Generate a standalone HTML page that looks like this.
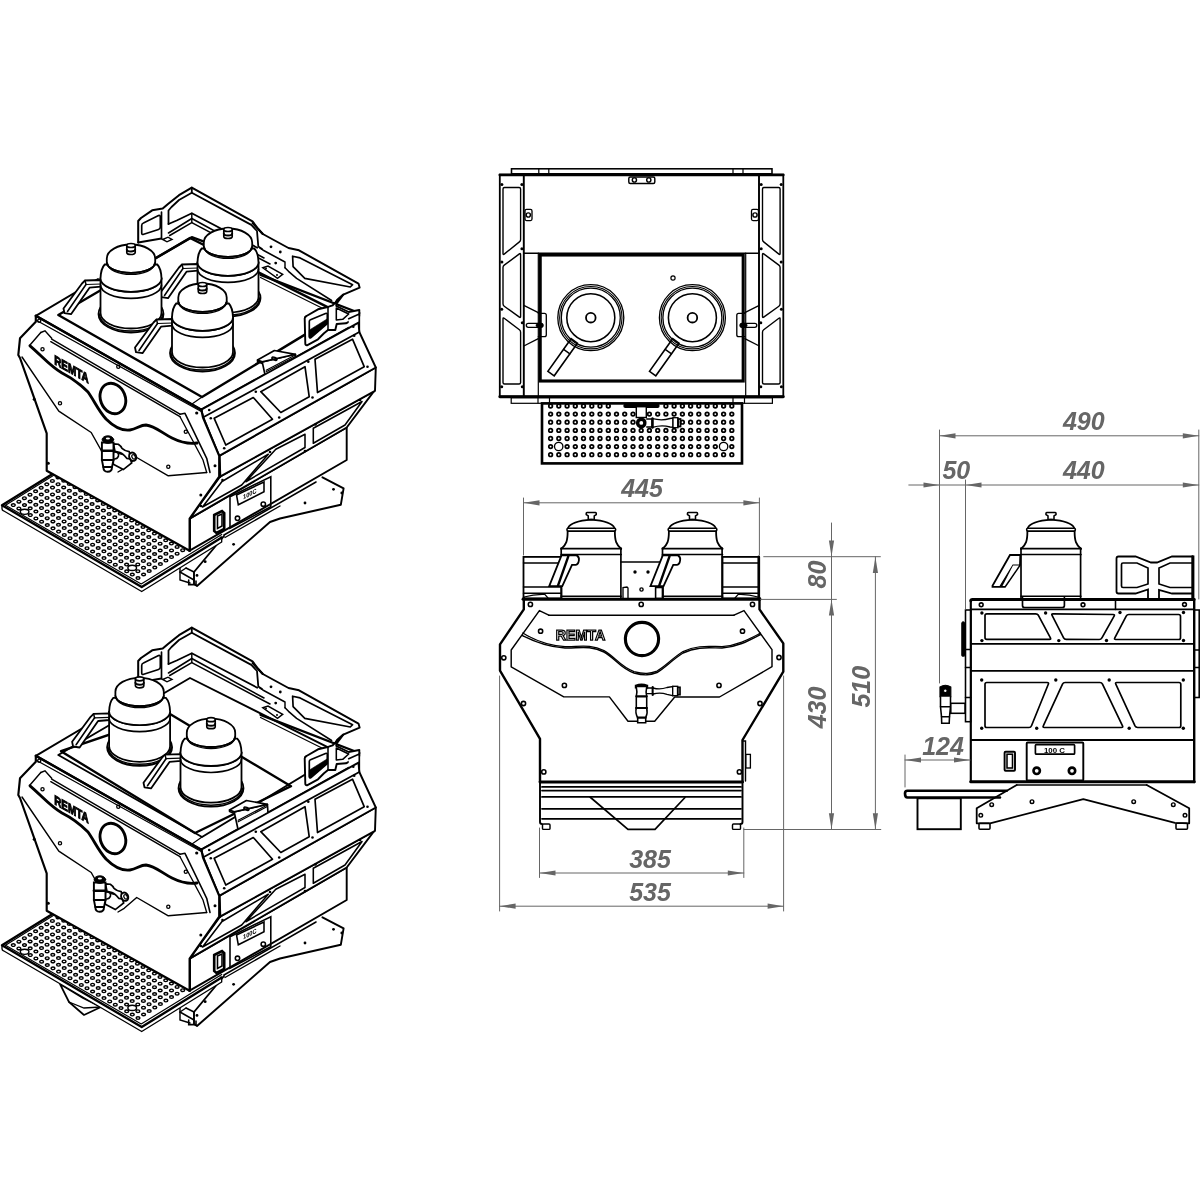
<!DOCTYPE html>
<html><head><meta charset="utf-8"><style>
html,body{margin:0;padding:0;background:#fff;}
svg{display:block;will-change:transform;}
.dim{font-family:"Liberation Sans",sans-serif;font-weight:bold;font-style:italic;fill:#666;}
.logo{font-family:"Liberation Sans",sans-serif;font-weight:bold;fill:#fff;stroke:#000;stroke-width:1.25;}
.logo2{font-family:"Liberation Sans",sans-serif;font-weight:bold;fill:#000;}
.lbl{font-family:"Liberation Sans",sans-serif;font-weight:bold;fill:#000;}
</style></head><body>
<svg width="1200" height="1200" viewBox="0 0 1200 1200" stroke-linecap="round">
<rect x="511.5" y="168.8" width="260.5" height="5.0" rx="0" fill="none" stroke="#000" stroke-width="1.56"/>
<line x1="538.8" y1="169.0" x2="538.8" y2="174.0" stroke="#000" stroke-width="1.20"/>
<line x1="548.8" y1="169.0" x2="548.8" y2="174.0" stroke="#000" stroke-width="1.20"/>
<line x1="733.0" y1="169.0" x2="733.0" y2="174.0" stroke="#000" stroke-width="1.20"/>
<line x1="743.0" y1="169.0" x2="743.0" y2="174.0" stroke="#000" stroke-width="1.20"/>
<rect x="499.8" y="174.5" width="283.5" height="222.0" rx="0" fill="none" stroke="#000" stroke-width="1.80"/>
<line x1="499.8" y1="175.0" x2="783.3" y2="175.0" stroke="#000" stroke-width="2.64"/>
<line x1="499.8" y1="396.8" x2="783.3" y2="396.8" stroke="#000" stroke-width="2.88"/>
<line x1="523.8" y1="174.5" x2="523.8" y2="396.8" stroke="#000" stroke-width="1.92"/>
<line x1="759.0" y1="174.5" x2="759.0" y2="396.8" stroke="#000" stroke-width="1.92"/>
<line x1="523.8" y1="253.2" x2="759.0" y2="253.2" stroke="#000" stroke-width="1.44"/>
<rect x="540.2" y="255.0" width="203.0" height="126.0" rx="0" fill="none" stroke="#000" stroke-width="3.12"/>
<line x1="538.3" y1="253.0" x2="538.3" y2="396.8" stroke="#000" stroke-width="1.20"/>
<line x1="745.7" y1="253.0" x2="745.7" y2="396.8" stroke="#000" stroke-width="1.20"/>
<rect x="628.8" y="177.0" width="26.0" height="6.5" rx="1.5" fill="none" stroke="#000" stroke-width="1.44"/>
<circle cx="634.4" cy="180.0" r="2.1" fill="none" stroke="#000" stroke-width="1.44"/>
<circle cx="648.8" cy="180.0" r="2.1" fill="none" stroke="#000" stroke-width="1.44"/>
<rect x="525.0" y="209.4" width="7.0" height="11.2" rx="1.5" fill="none" stroke="#000" stroke-width="1.32"/>
<circle cx="528.3" cy="215.0" r="2.1" fill="none" stroke="#000" stroke-width="1.44"/>
<rect x="751.5" y="209.4" width="7.0" height="11.2" rx="1.5" fill="none" stroke="#000" stroke-width="1.32"/>
<circle cx="755.0" cy="215.0" r="2.1" fill="none" stroke="#000" stroke-width="1.44"/>
<path d=" M503.0,189.0 Q503.0,187.5 504.5,187.5 L519.1,187.5 Q520.6,187.5 520.6,189.0 L520.6,239.5 Q520.6,241.0 519.4,241.9 L504.2,254.1 Q503.0,255.0 503.0,253.5 Z" fill="none" stroke="#000" stroke-width="1.38"/>
<path d=" M503.0,267.5 Q503.0,266.0 504.2,265.1 L519.4,253.9 Q520.6,253.0 520.6,254.5 L520.6,316.5 Q520.6,318.0 519.4,317.1 L504.2,306.2 Q503.0,305.3 503.0,303.8 Z" fill="none" stroke="#000" stroke-width="1.38"/>
<path d=" M503.0,318.8 Q503.0,317.3 504.2,318.2 L519.4,329.8 Q520.6,330.7 520.6,332.2 L520.6,382.5 Q520.6,384.0 519.1,384.0 L504.5,384.0 Q503.0,384.0 503.0,382.5 Z" fill="none" stroke="#000" stroke-width="1.38"/>
<circle cx="501.9" cy="184.4" r="1.5" fill="#000"/>
<circle cx="521.9" cy="184.4" r="1.5" fill="#000"/>
<circle cx="521.9" cy="248.8" r="1.5" fill="#000"/>
<circle cx="501.9" cy="261.9" r="1.5" fill="#000"/>
<circle cx="501.7" cy="309.3" r="1.5" fill="#000"/>
<circle cx="522.3" cy="322.7" r="1.5" fill="#000"/>
<circle cx="501.7" cy="386.7" r="1.5" fill="#000"/>
<circle cx="522.3" cy="386.7" r="1.5" fill="#000"/>
<path d="M523.8,305.3 L538.3,312.7" fill="none" stroke="#000" stroke-width="1.32" />
<path d="M523.8,346.0 L538.3,338.7" fill="none" stroke="#000" stroke-width="1.32" />
<path d="M538.3,313.3 L544.5,313.3 Q546.3,313.3 546.3,315.3 L546.3,334.7 Q546.3,336.7 544.5,336.7 L538.3,336.7" fill="none" stroke="#000" stroke-width="1.32" />
<rect x="526.3" y="323.3" width="16.7" height="4.0" rx="2" fill="none" stroke="#000" stroke-width="1.32"/>
<rect x="536.0" y="323.3" width="7.0" height="4.0" rx="2" fill="#000" stroke="#000" stroke-width="0.60"/>
<path d=" M780.1,189.0 Q780.1,187.5 778.6,187.5 L764.0,187.5 Q762.5,187.5 762.5,189.0 L762.5,239.5 Q762.5,241.0 763.7,241.9 L778.9,254.1 Q780.1,255.0 780.1,253.5 Z" fill="none" stroke="#000" stroke-width="1.38"/>
<path d=" M780.1,267.5 Q780.1,266.0 778.9,265.1 L763.7,253.9 Q762.5,253.0 762.5,254.5 L762.5,316.5 Q762.5,318.0 763.7,317.1 L778.9,306.2 Q780.1,305.3 780.1,303.8 Z" fill="none" stroke="#000" stroke-width="1.38"/>
<path d=" M780.1,318.8 Q780.1,317.3 778.9,318.2 L763.7,329.8 Q762.5,330.7 762.5,332.2 L762.5,382.5 Q762.5,384.0 764.0,384.0 L778.6,384.0 Q780.1,384.0 780.1,382.5 Z" fill="none" stroke="#000" stroke-width="1.38"/>
<circle cx="781.2" cy="184.4" r="1.5" fill="#000"/>
<circle cx="761.2" cy="184.4" r="1.5" fill="#000"/>
<circle cx="761.2" cy="248.8" r="1.5" fill="#000"/>
<circle cx="781.2" cy="261.9" r="1.5" fill="#000"/>
<circle cx="781.4" cy="309.3" r="1.5" fill="#000"/>
<circle cx="760.8" cy="322.7" r="1.5" fill="#000"/>
<circle cx="781.4" cy="386.7" r="1.5" fill="#000"/>
<circle cx="760.8" cy="386.7" r="1.5" fill="#000"/>
<path d="M759.3,305.3 L744.8,312.7" fill="none" stroke="#000" stroke-width="1.32" />
<path d="M759.3,346.0 L744.8,338.7" fill="none" stroke="#000" stroke-width="1.32" />
<path d="M744.8,313.3 L738.5999999999999,313.3 Q736.8,313.3 736.8,315.3 L736.8,334.7 Q736.8,336.7 738.5999999999999,336.7 L744.8,336.7" fill="none" stroke="#000" stroke-width="1.32" />
<rect x="740.1" y="323.3" width="16.7" height="4.0" rx="2" fill="none" stroke="#000" stroke-width="1.32"/>
<rect x="740.1" y="323.3" width="7.0" height="4.0" rx="2" fill="#000" stroke="#000" stroke-width="0.60"/>
<circle cx="590.8" cy="317.7" r="33.0" fill="none" stroke="#000" stroke-width="1.32"/>
<circle cx="590.8" cy="317.7" r="31.2" fill="none" stroke="#000" stroke-width="1.08"/>
<circle cx="590.8" cy="317.7" r="29.5" fill="none" stroke="#000" stroke-width="1.32"/>
<circle cx="590.8" cy="317.7" r="24.0" fill="none" stroke="#000" stroke-width="1.56"/>
<circle cx="590.8" cy="317.7" r="4.8" fill="none" stroke="#000" stroke-width="1.80"/>
<path d="M577.4,343.2 L554.2,375.8 L547.9,371.3 L571.1,338.7 Z" fill="none" stroke="#000" stroke-width="1.56" />
<line x1="569.9" y1="353.8" x2="563.6" y2="349.3" stroke="#000" stroke-width="1.44"/>
<circle cx="692.4" cy="317.7" r="33.0" fill="none" stroke="#000" stroke-width="1.32"/>
<circle cx="692.4" cy="317.7" r="31.2" fill="none" stroke="#000" stroke-width="1.08"/>
<circle cx="692.4" cy="317.7" r="29.5" fill="none" stroke="#000" stroke-width="1.32"/>
<circle cx="692.4" cy="317.7" r="24.0" fill="none" stroke="#000" stroke-width="1.56"/>
<circle cx="692.4" cy="317.7" r="4.8" fill="none" stroke="#000" stroke-width="1.80"/>
<path d="M679.0,343.2 L655.8,375.8 L649.5,371.3 L672.7,338.7 Z" fill="none" stroke="#000" stroke-width="1.56" />
<line x1="671.5" y1="353.8" x2="665.2" y2="349.3" stroke="#000" stroke-width="1.44"/>
<circle cx="673.0" cy="278.0" r="2.1" fill="none" stroke="#000" stroke-width="1.20"/>
<rect x="511.2" y="397.7" width="261.2" height="5.6" rx="0" fill="none" stroke="#000" stroke-width="1.20"/>
<line x1="538.0" y1="398.0" x2="538.0" y2="403.0" stroke="#000" stroke-width="1.20"/>
<line x1="549.5" y1="398.0" x2="549.5" y2="403.0" stroke="#000" stroke-width="1.20"/>
<line x1="733.0" y1="398.0" x2="733.0" y2="403.0" stroke="#000" stroke-width="1.20"/>
<line x1="744.5" y1="398.0" x2="744.5" y2="403.0" stroke="#000" stroke-width="1.20"/>
<rect x="542.0" y="403.4" width="200.0" height="60.0" rx="0" fill="none" stroke="#000" stroke-width="2.64"/>
<circle cx="550.6" cy="406.0" r="1.8" fill="none" stroke="#000" stroke-width="1.74"/>
<circle cx="550.6" cy="414.1" r="1.8" fill="none" stroke="#000" stroke-width="1.74"/>
<circle cx="550.6" cy="422.2" r="1.8" fill="none" stroke="#000" stroke-width="1.74"/>
<circle cx="550.6" cy="430.4" r="1.8" fill="none" stroke="#000" stroke-width="1.74"/>
<circle cx="550.6" cy="438.5" r="1.8" fill="none" stroke="#000" stroke-width="1.74"/>
<circle cx="550.6" cy="446.6" r="1.8" fill="none" stroke="#000" stroke-width="1.74"/>
<circle cx="550.6" cy="454.7" r="1.8" fill="none" stroke="#000" stroke-width="1.74"/>
<circle cx="558.8" cy="406.0" r="1.8" fill="none" stroke="#000" stroke-width="1.74"/>
<circle cx="558.8" cy="414.1" r="1.8" fill="none" stroke="#000" stroke-width="1.74"/>
<circle cx="558.8" cy="422.2" r="1.8" fill="none" stroke="#000" stroke-width="1.74"/>
<circle cx="558.8" cy="430.4" r="1.8" fill="none" stroke="#000" stroke-width="1.74"/>
<circle cx="558.8" cy="438.5" r="1.8" fill="none" stroke="#000" stroke-width="1.74"/>
<circle cx="558.8" cy="454.7" r="1.8" fill="none" stroke="#000" stroke-width="1.74"/>
<circle cx="567.1" cy="406.0" r="1.8" fill="none" stroke="#000" stroke-width="1.74"/>
<circle cx="567.1" cy="414.1" r="1.8" fill="none" stroke="#000" stroke-width="1.74"/>
<circle cx="567.1" cy="422.2" r="1.8" fill="none" stroke="#000" stroke-width="1.74"/>
<circle cx="567.1" cy="430.4" r="1.8" fill="none" stroke="#000" stroke-width="1.74"/>
<circle cx="567.1" cy="438.5" r="1.8" fill="none" stroke="#000" stroke-width="1.74"/>
<circle cx="567.1" cy="446.6" r="1.8" fill="none" stroke="#000" stroke-width="1.74"/>
<circle cx="567.1" cy="454.7" r="1.8" fill="none" stroke="#000" stroke-width="1.74"/>
<circle cx="575.3" cy="406.0" r="1.8" fill="none" stroke="#000" stroke-width="1.74"/>
<circle cx="575.3" cy="414.1" r="1.8" fill="none" stroke="#000" stroke-width="1.74"/>
<circle cx="575.3" cy="422.2" r="1.8" fill="none" stroke="#000" stroke-width="1.74"/>
<circle cx="575.3" cy="430.4" r="1.8" fill="none" stroke="#000" stroke-width="1.74"/>
<circle cx="575.3" cy="438.5" r="1.8" fill="none" stroke="#000" stroke-width="1.74"/>
<circle cx="575.3" cy="446.6" r="1.8" fill="none" stroke="#000" stroke-width="1.74"/>
<circle cx="575.3" cy="454.7" r="1.8" fill="none" stroke="#000" stroke-width="1.74"/>
<circle cx="583.5" cy="406.0" r="1.8" fill="none" stroke="#000" stroke-width="1.74"/>
<circle cx="583.5" cy="414.1" r="1.8" fill="none" stroke="#000" stroke-width="1.74"/>
<circle cx="583.5" cy="422.2" r="1.8" fill="none" stroke="#000" stroke-width="1.74"/>
<circle cx="583.5" cy="430.4" r="1.8" fill="none" stroke="#000" stroke-width="1.74"/>
<circle cx="583.5" cy="438.5" r="1.8" fill="none" stroke="#000" stroke-width="1.74"/>
<circle cx="583.5" cy="446.6" r="1.8" fill="none" stroke="#000" stroke-width="1.74"/>
<circle cx="583.5" cy="454.7" r="1.8" fill="none" stroke="#000" stroke-width="1.74"/>
<circle cx="591.8" cy="406.0" r="1.8" fill="none" stroke="#000" stroke-width="1.74"/>
<circle cx="591.8" cy="414.1" r="1.8" fill="none" stroke="#000" stroke-width="1.74"/>
<circle cx="591.8" cy="422.2" r="1.8" fill="none" stroke="#000" stroke-width="1.74"/>
<circle cx="591.8" cy="430.4" r="1.8" fill="none" stroke="#000" stroke-width="1.74"/>
<circle cx="591.8" cy="438.5" r="1.8" fill="none" stroke="#000" stroke-width="1.74"/>
<circle cx="591.8" cy="446.6" r="1.8" fill="none" stroke="#000" stroke-width="1.74"/>
<circle cx="591.8" cy="454.7" r="1.8" fill="none" stroke="#000" stroke-width="1.74"/>
<circle cx="600.0" cy="406.0" r="1.8" fill="none" stroke="#000" stroke-width="1.74"/>
<circle cx="600.0" cy="414.1" r="1.8" fill="none" stroke="#000" stroke-width="1.74"/>
<circle cx="600.0" cy="422.2" r="1.8" fill="none" stroke="#000" stroke-width="1.74"/>
<circle cx="600.0" cy="430.4" r="1.8" fill="none" stroke="#000" stroke-width="1.74"/>
<circle cx="600.0" cy="438.5" r="1.8" fill="none" stroke="#000" stroke-width="1.74"/>
<circle cx="600.0" cy="446.6" r="1.8" fill="none" stroke="#000" stroke-width="1.74"/>
<circle cx="600.0" cy="454.7" r="1.8" fill="none" stroke="#000" stroke-width="1.74"/>
<circle cx="608.3" cy="406.0" r="1.8" fill="none" stroke="#000" stroke-width="1.74"/>
<circle cx="608.3" cy="414.1" r="1.8" fill="none" stroke="#000" stroke-width="1.74"/>
<circle cx="608.3" cy="422.2" r="1.8" fill="none" stroke="#000" stroke-width="1.74"/>
<circle cx="608.3" cy="430.4" r="1.8" fill="none" stroke="#000" stroke-width="1.74"/>
<circle cx="608.3" cy="438.5" r="1.8" fill="none" stroke="#000" stroke-width="1.74"/>
<circle cx="608.3" cy="446.6" r="1.8" fill="none" stroke="#000" stroke-width="1.74"/>
<circle cx="608.3" cy="454.7" r="1.8" fill="none" stroke="#000" stroke-width="1.74"/>
<circle cx="616.5" cy="414.1" r="1.8" fill="none" stroke="#000" stroke-width="1.74"/>
<circle cx="616.5" cy="422.2" r="1.8" fill="none" stroke="#000" stroke-width="1.74"/>
<circle cx="616.5" cy="430.4" r="1.8" fill="none" stroke="#000" stroke-width="1.74"/>
<circle cx="616.5" cy="438.5" r="1.8" fill="none" stroke="#000" stroke-width="1.74"/>
<circle cx="616.5" cy="446.6" r="1.8" fill="none" stroke="#000" stroke-width="1.74"/>
<circle cx="616.5" cy="454.7" r="1.8" fill="none" stroke="#000" stroke-width="1.74"/>
<circle cx="624.7" cy="414.1" r="1.8" fill="none" stroke="#000" stroke-width="1.74"/>
<circle cx="624.7" cy="422.2" r="1.8" fill="none" stroke="#000" stroke-width="1.74"/>
<circle cx="624.7" cy="430.4" r="1.8" fill="none" stroke="#000" stroke-width="1.74"/>
<circle cx="624.7" cy="438.5" r="1.8" fill="none" stroke="#000" stroke-width="1.74"/>
<circle cx="624.7" cy="446.6" r="1.8" fill="none" stroke="#000" stroke-width="1.74"/>
<circle cx="624.7" cy="454.7" r="1.8" fill="none" stroke="#000" stroke-width="1.74"/>
<circle cx="633.0" cy="414.1" r="1.8" fill="none" stroke="#000" stroke-width="1.74"/>
<circle cx="633.0" cy="422.2" r="1.8" fill="none" stroke="#000" stroke-width="1.74"/>
<circle cx="633.0" cy="430.4" r="1.8" fill="none" stroke="#000" stroke-width="1.74"/>
<circle cx="633.0" cy="438.5" r="1.8" fill="none" stroke="#000" stroke-width="1.74"/>
<circle cx="633.0" cy="446.6" r="1.8" fill="none" stroke="#000" stroke-width="1.74"/>
<circle cx="633.0" cy="454.7" r="1.8" fill="none" stroke="#000" stroke-width="1.74"/>
<circle cx="641.2" cy="414.1" r="1.8" fill="none" stroke="#000" stroke-width="1.74"/>
<circle cx="641.2" cy="422.2" r="1.8" fill="none" stroke="#000" stroke-width="1.74"/>
<circle cx="641.2" cy="430.4" r="1.8" fill="none" stroke="#000" stroke-width="1.74"/>
<circle cx="641.2" cy="438.5" r="1.8" fill="none" stroke="#000" stroke-width="1.74"/>
<circle cx="641.2" cy="446.6" r="1.8" fill="none" stroke="#000" stroke-width="1.74"/>
<circle cx="641.2" cy="454.7" r="1.8" fill="none" stroke="#000" stroke-width="1.74"/>
<circle cx="649.4" cy="414.1" r="1.8" fill="none" stroke="#000" stroke-width="1.74"/>
<circle cx="649.4" cy="422.2" r="1.8" fill="none" stroke="#000" stroke-width="1.74"/>
<circle cx="649.4" cy="430.4" r="1.8" fill="none" stroke="#000" stroke-width="1.74"/>
<circle cx="649.4" cy="438.5" r="1.8" fill="none" stroke="#000" stroke-width="1.74"/>
<circle cx="649.4" cy="446.6" r="1.8" fill="none" stroke="#000" stroke-width="1.74"/>
<circle cx="649.4" cy="454.7" r="1.8" fill="none" stroke="#000" stroke-width="1.74"/>
<circle cx="657.7" cy="414.1" r="1.8" fill="none" stroke="#000" stroke-width="1.74"/>
<circle cx="657.7" cy="422.2" r="1.8" fill="none" stroke="#000" stroke-width="1.74"/>
<circle cx="657.7" cy="430.4" r="1.8" fill="none" stroke="#000" stroke-width="1.74"/>
<circle cx="657.7" cy="438.5" r="1.8" fill="none" stroke="#000" stroke-width="1.74"/>
<circle cx="657.7" cy="446.6" r="1.8" fill="none" stroke="#000" stroke-width="1.74"/>
<circle cx="657.7" cy="454.7" r="1.8" fill="none" stroke="#000" stroke-width="1.74"/>
<circle cx="665.9" cy="406.0" r="1.8" fill="none" stroke="#000" stroke-width="1.74"/>
<circle cx="665.9" cy="414.1" r="1.8" fill="none" stroke="#000" stroke-width="1.74"/>
<circle cx="665.9" cy="422.2" r="1.8" fill="none" stroke="#000" stroke-width="1.74"/>
<circle cx="665.9" cy="430.4" r="1.8" fill="none" stroke="#000" stroke-width="1.74"/>
<circle cx="665.9" cy="438.5" r="1.8" fill="none" stroke="#000" stroke-width="1.74"/>
<circle cx="665.9" cy="446.6" r="1.8" fill="none" stroke="#000" stroke-width="1.74"/>
<circle cx="665.9" cy="454.7" r="1.8" fill="none" stroke="#000" stroke-width="1.74"/>
<circle cx="674.1" cy="406.0" r="1.8" fill="none" stroke="#000" stroke-width="1.74"/>
<circle cx="674.1" cy="414.1" r="1.8" fill="none" stroke="#000" stroke-width="1.74"/>
<circle cx="674.1" cy="422.2" r="1.8" fill="none" stroke="#000" stroke-width="1.74"/>
<circle cx="674.1" cy="430.4" r="1.8" fill="none" stroke="#000" stroke-width="1.74"/>
<circle cx="674.1" cy="438.5" r="1.8" fill="none" stroke="#000" stroke-width="1.74"/>
<circle cx="674.1" cy="446.6" r="1.8" fill="none" stroke="#000" stroke-width="1.74"/>
<circle cx="674.1" cy="454.7" r="1.8" fill="none" stroke="#000" stroke-width="1.74"/>
<circle cx="682.4" cy="406.0" r="1.8" fill="none" stroke="#000" stroke-width="1.74"/>
<circle cx="682.4" cy="414.1" r="1.8" fill="none" stroke="#000" stroke-width="1.74"/>
<circle cx="682.4" cy="422.2" r="1.8" fill="none" stroke="#000" stroke-width="1.74"/>
<circle cx="682.4" cy="430.4" r="1.8" fill="none" stroke="#000" stroke-width="1.74"/>
<circle cx="682.4" cy="438.5" r="1.8" fill="none" stroke="#000" stroke-width="1.74"/>
<circle cx="682.4" cy="446.6" r="1.8" fill="none" stroke="#000" stroke-width="1.74"/>
<circle cx="682.4" cy="454.7" r="1.8" fill="none" stroke="#000" stroke-width="1.74"/>
<circle cx="690.6" cy="406.0" r="1.8" fill="none" stroke="#000" stroke-width="1.74"/>
<circle cx="690.6" cy="414.1" r="1.8" fill="none" stroke="#000" stroke-width="1.74"/>
<circle cx="690.6" cy="422.2" r="1.8" fill="none" stroke="#000" stroke-width="1.74"/>
<circle cx="690.6" cy="430.4" r="1.8" fill="none" stroke="#000" stroke-width="1.74"/>
<circle cx="690.6" cy="438.5" r="1.8" fill="none" stroke="#000" stroke-width="1.74"/>
<circle cx="690.6" cy="446.6" r="1.8" fill="none" stroke="#000" stroke-width="1.74"/>
<circle cx="690.6" cy="454.7" r="1.8" fill="none" stroke="#000" stroke-width="1.74"/>
<circle cx="698.8" cy="406.0" r="1.8" fill="none" stroke="#000" stroke-width="1.74"/>
<circle cx="698.8" cy="414.1" r="1.8" fill="none" stroke="#000" stroke-width="1.74"/>
<circle cx="698.8" cy="422.2" r="1.8" fill="none" stroke="#000" stroke-width="1.74"/>
<circle cx="698.8" cy="430.4" r="1.8" fill="none" stroke="#000" stroke-width="1.74"/>
<circle cx="698.8" cy="438.5" r="1.8" fill="none" stroke="#000" stroke-width="1.74"/>
<circle cx="698.8" cy="446.6" r="1.8" fill="none" stroke="#000" stroke-width="1.74"/>
<circle cx="698.8" cy="454.7" r="1.8" fill="none" stroke="#000" stroke-width="1.74"/>
<circle cx="707.1" cy="406.0" r="1.8" fill="none" stroke="#000" stroke-width="1.74"/>
<circle cx="707.1" cy="414.1" r="1.8" fill="none" stroke="#000" stroke-width="1.74"/>
<circle cx="707.1" cy="422.2" r="1.8" fill="none" stroke="#000" stroke-width="1.74"/>
<circle cx="707.1" cy="430.4" r="1.8" fill="none" stroke="#000" stroke-width="1.74"/>
<circle cx="707.1" cy="438.5" r="1.8" fill="none" stroke="#000" stroke-width="1.74"/>
<circle cx="707.1" cy="446.6" r="1.8" fill="none" stroke="#000" stroke-width="1.74"/>
<circle cx="707.1" cy="454.7" r="1.8" fill="none" stroke="#000" stroke-width="1.74"/>
<circle cx="715.3" cy="406.0" r="1.8" fill="none" stroke="#000" stroke-width="1.74"/>
<circle cx="715.3" cy="414.1" r="1.8" fill="none" stroke="#000" stroke-width="1.74"/>
<circle cx="715.3" cy="422.2" r="1.8" fill="none" stroke="#000" stroke-width="1.74"/>
<circle cx="715.3" cy="430.4" r="1.8" fill="none" stroke="#000" stroke-width="1.74"/>
<circle cx="715.3" cy="438.5" r="1.8" fill="none" stroke="#000" stroke-width="1.74"/>
<circle cx="715.3" cy="446.6" r="1.8" fill="none" stroke="#000" stroke-width="1.74"/>
<circle cx="715.3" cy="454.7" r="1.8" fill="none" stroke="#000" stroke-width="1.74"/>
<circle cx="723.6" cy="406.0" r="1.8" fill="none" stroke="#000" stroke-width="1.74"/>
<circle cx="723.6" cy="414.1" r="1.8" fill="none" stroke="#000" stroke-width="1.74"/>
<circle cx="723.6" cy="422.2" r="1.8" fill="none" stroke="#000" stroke-width="1.74"/>
<circle cx="723.6" cy="430.4" r="1.8" fill="none" stroke="#000" stroke-width="1.74"/>
<circle cx="723.6" cy="438.5" r="1.8" fill="none" stroke="#000" stroke-width="1.74"/>
<circle cx="723.6" cy="454.7" r="1.8" fill="none" stroke="#000" stroke-width="1.74"/>
<circle cx="731.8" cy="406.0" r="1.8" fill="none" stroke="#000" stroke-width="1.74"/>
<circle cx="731.8" cy="414.1" r="1.8" fill="none" stroke="#000" stroke-width="1.74"/>
<circle cx="731.8" cy="422.2" r="1.8" fill="none" stroke="#000" stroke-width="1.74"/>
<circle cx="731.8" cy="430.4" r="1.8" fill="none" stroke="#000" stroke-width="1.74"/>
<circle cx="731.8" cy="438.5" r="1.8" fill="none" stroke="#000" stroke-width="1.74"/>
<circle cx="731.8" cy="446.6" r="1.8" fill="none" stroke="#000" stroke-width="1.74"/>
<circle cx="731.8" cy="454.7" r="1.8" fill="none" stroke="#000" stroke-width="1.74"/>
<circle cx="558.7" cy="446.5" r="4.2" fill="none" stroke="#000" stroke-width="1.32"/>
<circle cx="723.6" cy="446.5" r="4.2" fill="none" stroke="#000" stroke-width="1.32"/>
<rect x="623.3" y="403.8" width="36.3" height="4.2" rx="2" fill="#000" stroke="#000" stroke-width="0.00"/>
<rect x="636.3" y="406.7" width="10.0" height="10.8" rx="0" fill="#fff" stroke="#000" stroke-width="1.44"/>
<circle cx="641.3" cy="422.9" r="5.4" fill="#000" stroke="#000" stroke-width="0.00"/>
<circle cx="641.3" cy="422.9" r="1.9" fill="#fff" stroke="#000" stroke-width="0.00"/>
<path d="M646.7,419 L652,419 L652,427 L646.7,427" fill="#fff" stroke="#000" stroke-width="1.32" />
<path d="M652.5,418.7 Q662,421 670,418.5 L673,418 L673,427.3 L670,427 Q662,424.5 652.5,427.3 Z" fill="#fff" stroke="#000" stroke-width="1.32" />
<rect x="673.0" y="417.7" width="5.0" height="10.0" rx="0" fill="#fff" stroke="#000" stroke-width="1.32"/>
<rect x="678.0" y="419.0" width="2.5" height="7.5" rx="0" fill="none" stroke="#000" stroke-width="1.80"/>
<line x1="652.5" y1="418.5" x2="652.5" y2="427.5" stroke="#000" stroke-width="2.40"/>
<rect x="523.5" y="556.9" width="38.0" height="41.5" rx="0" fill="none" stroke="#000" stroke-width="1.80"/>
<line x1="523.5" y1="563.0" x2="561.0" y2="563.0" stroke="#000" stroke-width="1.56"/>
<line x1="523.5" y1="587.0" x2="561.0" y2="587.0" stroke="#000" stroke-width="1.56"/>
<line x1="523.5" y1="593.3" x2="561.0" y2="593.3" stroke="#000" stroke-width="1.56"/>
<path d="M524,597 Q535,594 545,594.5 L548,598" fill="none" stroke="#000" stroke-width="1.20" />
<rect x="722.5" y="556.9" width="36.3" height="41.5" rx="0" fill="none" stroke="#000" stroke-width="1.80"/>
<line x1="722.5" y1="563.0" x2="758.8" y2="563.0" stroke="#000" stroke-width="1.56"/>
<line x1="722.5" y1="587.0" x2="758.8" y2="587.0" stroke="#000" stroke-width="1.56"/>
<line x1="722.5" y1="593.3" x2="758.8" y2="593.3" stroke="#000" stroke-width="1.56"/>
<path d="M758,597 Q748,594 738,594.5 L735,598" fill="none" stroke="#000" stroke-width="1.20" />
<line x1="758.8" y1="556.9" x2="758.8" y2="598.5" stroke="#000" stroke-width="2.64"/>
<line x1="621.0" y1="562.0" x2="662.5" y2="562.0" stroke="#000" stroke-width="1.68"/>
<circle cx="635.0" cy="572.0" r="1.7" fill="#000"/>
<circle cx="648.0" cy="572.0" r="1.7" fill="#000"/>
<circle cx="641.5" cy="589.5" r="1.6" fill="none" stroke="#000" stroke-width="1.44"/>
<path d="M623,598 L623,587.5 L627,587 L628,588 L628,598" fill="none" stroke="#000" stroke-width="1.32" />
<path d="M586.95,512.5 L595.55,512.5 Q596.25,512.5 596.25,513.3 L596.25,514.5 L594.25,516 L594.25,519.5 L588.25,519.5 L588.25,516 L586.25,514.5 L586.25,513.3 Q586.25,512.5 586.95,512.5 Z" fill="#fff" stroke="#000" stroke-width="1.56" />
<path d="M567.95,528 Q571.25,521 591.25,519.6 Q611.25,521 614.55,528" fill="none" stroke="#000" stroke-width="1.68" />
<rect x="567.0" y="528.3" width="48.6" height="2.8" rx="1" fill="none" stroke="#000" stroke-width="1.56"/>
<path d="M567.65,531.2 C567.65,541 566.25,544.5 561.25,549 M614.85,531.2 C614.85,541 616.25,544.5 621.25,549" fill="none" stroke="#000" stroke-width="1.80" />
<line x1="561.2" y1="548.6" x2="621.2" y2="548.6" stroke="#000" stroke-width="1.68"/>
<line x1="561.2" y1="554.5" x2="621.2" y2="554.5" stroke="#000" stroke-width="1.68"/>
<line x1="561.2" y1="548.0" x2="561.2" y2="598.0" stroke="#000" stroke-width="1.68"/>
<line x1="620.9" y1="548.0" x2="620.9" y2="598.0" stroke="#000" stroke-width="1.68"/>
<line x1="561.2" y1="596.3" x2="621.2" y2="596.3" stroke="#000" stroke-width="1.44"/>
<path d="M561.5,555.4 L576.7,555.4 Q579.5,557 578.9,560.4 Q578.3,564.5 575.8,564.8 L572.0,564.8 L562.3,586.2 L549.2,586.2 Z" fill="#fff" stroke="#000" stroke-width="1.80" />
<line x1="568.3" y1="556.3" x2="557.9" y2="585.8" stroke="#000" stroke-width="2.40"/>
<path d="M688.2,512.5 L696.8,512.5 Q697.5,512.5 697.5,513.3 L697.5,514.5 L695.5,516 L695.5,519.5 L689.5,519.5 L689.5,516 L687.5,514.5 L687.5,513.3 Q687.5,512.5 688.2,512.5 Z" fill="#fff" stroke="#000" stroke-width="1.56" />
<path d="M669.2,528 Q672.5,521 692.5,519.6 Q712.5,521 715.8,528" fill="none" stroke="#000" stroke-width="1.68" />
<rect x="668.2" y="528.3" width="48.6" height="2.8" rx="1" fill="none" stroke="#000" stroke-width="1.56"/>
<path d="M668.9,531.2 C668.9,541 667.5,544.5 662.5,549 M716.1,531.2 C716.1,541 717.5,544.5 722.5,549" fill="none" stroke="#000" stroke-width="1.80" />
<line x1="662.5" y1="548.6" x2="722.5" y2="548.6" stroke="#000" stroke-width="1.68"/>
<line x1="662.5" y1="554.5" x2="722.5" y2="554.5" stroke="#000" stroke-width="1.68"/>
<line x1="662.5" y1="548.0" x2="662.5" y2="598.0" stroke="#000" stroke-width="1.68"/>
<line x1="722.1" y1="548.0" x2="722.1" y2="598.0" stroke="#000" stroke-width="1.68"/>
<line x1="662.5" y1="596.3" x2="722.5" y2="596.3" stroke="#000" stroke-width="1.44"/>
<path d="M662.75,555.4 L677.95,555.4 Q680.75,557 680.15,560.4 Q679.55,564.5 677.05,564.8 L673.25,564.8 L663.55,586.2 L650.45,586.2 Z" fill="#fff" stroke="#000" stroke-width="1.80" />
<line x1="669.5" y1="556.3" x2="659.1" y2="585.8" stroke="#000" stroke-width="2.40"/>
<rect x="655.6" y="587.5" width="7.5" height="11.0" rx="0" fill="none" stroke="#000" stroke-width="1.56"/>
<line x1="523.0" y1="599.3" x2="760.0" y2="599.3" stroke="#000" stroke-width="2.88"/>
<line x1="548.8" y1="615.2" x2="734.0" y2="615.2" stroke="#000" stroke-width="1.56"/>
<path d="M523.8,598.0 L523.8,609.4 L500.0,644.4 L500.0,670.6 L540.0,738.8 L540.0,782.0" fill="none" stroke="#000" stroke-width="2.40" stroke-linejoin="round"/>
<path d="M759.5,598.0 L759.5,609.4 L783.3,643.4 L783.3,671.7 L742.5,740.0 L742.5,782.0" fill="none" stroke="#000" stroke-width="2.40" stroke-linejoin="round"/>
<path d="M548.8,615.2 L539.4,610.6 L511.2,650.0 L511.2,666.9 L563.8,696.9 L609.4,696.9 L628.0,721.3 L654.7,721.3 L674.7,697.0 L719.5,697.0 L772.0,666.7 L772.0,649.7 L744.0,610.6 L734.0,615.2" fill="none" stroke="#000" stroke-width="1.44" stroke-linejoin="round"/>
<path d="M522.5,635.6 C535,642 548,647 565,648 C578,648.5 590,645 604,652 C615,658 620,668 634,673 C645,676 650,675 657,672.5 C665,668 672,660 683,653 C697,646 710,648 722,648 C738,647 750,640 760.5,634.5" fill="none" stroke="#000" stroke-width="1.44" />
<path d="M522.8,634.4 C535,642 548,647 565,648 C578,648.5 590,645 604,652 C615,658 620,668 634,673 C645,676 650,675 657,672.5 C665,668 672,660 683,653 C697,646 710,648 722,648 C738,647 750,640 760.5,634.5" fill="none" stroke="#000" stroke-width="1.20" transform="translate(0,-1.4)"/>
<circle cx="530.4" cy="604.4" r="2.1" fill="none" stroke="#000" stroke-width="1.56"/>
<circle cx="641.2" cy="604.4" r="2.1" fill="none" stroke="#000" stroke-width="1.56"/>
<circle cx="752.5" cy="604.4" r="2.1" fill="none" stroke="#000" stroke-width="1.56"/>
<circle cx="540.6" cy="631.2" r="2.1" fill="none" stroke="#000" stroke-width="1.56"/>
<circle cx="742.5" cy="631.2" r="2.1" fill="none" stroke="#000" stroke-width="1.56"/>
<circle cx="503.8" cy="657.8" r="2.1" fill="none" stroke="#000" stroke-width="1.56"/>
<circle cx="779.0" cy="657.5" r="2.1" fill="none" stroke="#000" stroke-width="1.56"/>
<circle cx="564.4" cy="685.4" r="2.1" fill="none" stroke="#000" stroke-width="1.56"/>
<circle cx="719.0" cy="685.4" r="2.1" fill="none" stroke="#000" stroke-width="1.56"/>
<circle cx="523.5" cy="703.5" r="2.1" fill="none" stroke="#000" stroke-width="1.56"/>
<circle cx="760.0" cy="703.5" r="2.1" fill="none" stroke="#000" stroke-width="1.56"/>
<circle cx="543.8" cy="771.9" r="2.1" fill="none" stroke="#000" stroke-width="1.56"/>
<circle cx="739.4" cy="771.9" r="2.1" fill="none" stroke="#000" stroke-width="1.56"/>
<text x="580.5" y="639.7" font-size="14.6" class="logo" text-anchor="middle" textLength="49.5" lengthAdjust="spacingAndGlyphs">REMTA</text>
<circle cx="642.0" cy="639.0" r="16.6" fill="none" stroke="#000" stroke-width="3.12"/>
<path d="M635.7,687.5 L635.7,685.5 Q641.5,683.5 647.3,685.5 L647.3,687.5 Z" fill="#000" stroke="#000" stroke-width="1.80" />
<path d="M636.3,687.3 Q637.5,692 636.3,696.3 L636.3,708 Q635,713 637.7,717.7 L637.7,722.7 L645.7,722.7 L645.7,717.7 Q648,713 646.7,708 L646.7,696.3 Q645.5,692 646.7,687.3" fill="#fff" stroke="#000" stroke-width="1.56" />
<line x1="636.3" y1="696.3" x2="646.7" y2="696.3" stroke="#000" stroke-width="2.16"/>
<line x1="636.0" y1="708.0" x2="647.0" y2="708.0" stroke="#000" stroke-width="2.16"/>
<line x1="637.7" y1="717.7" x2="645.7" y2="717.7" stroke="#000" stroke-width="2.16"/>
<path d="M646.5,688 L652.7,688 L652.7,693.6 L646.5,693.6" fill="none" stroke="#000" stroke-width="1.32" />
<line x1="652.7" y1="687.0" x2="652.7" y2="695.0" stroke="#000" stroke-width="2.16"/>
<path d="M653,688 Q660,690 667,687.5 L672.7,686.5 L672.7,695.6 L667,694.3 Q660,692 653,694 Z" fill="#fff" stroke="#000" stroke-width="1.32" />
<rect x="672.7" y="686.3" width="5.0" height="9.4" rx="0" fill="#fff" stroke="#000" stroke-width="1.32"/>
<rect x="677.7" y="687.3" width="2.3" height="7.4" rx="0" fill="none" stroke="#000" stroke-width="1.68"/>
<path d="M742.5,741 L745.5,741 L745.5,781" fill="none" stroke="#000" stroke-width="1.44" />
<rect x="745.8" y="754.4" width="4.6" height="13.6" rx="0" fill="none" stroke="#000" stroke-width="1.32"/>
<line x1="540.0" y1="782.0" x2="742.5" y2="782.0" stroke="#000" stroke-width="2.88"/>
<path d="M540,782 L540,822 Q540,824 542,824 M742.5,782 L742.5,822 Q742.5,824 740.5,824" fill="none" stroke="#000" stroke-width="1.92" />
<line x1="542.0" y1="786.9" x2="741.0" y2="786.9" stroke="#000" stroke-width="1.80"/>
<line x1="542.0" y1="790.6" x2="741.0" y2="790.6" stroke="#000" stroke-width="1.80"/>
<line x1="542.0" y1="796.9" x2="741.0" y2="796.9" stroke="#000" stroke-width="1.80"/>
<line x1="542.0" y1="808.8" x2="741.0" y2="808.8" stroke="#000" stroke-width="1.80"/>
<line x1="542.0" y1="818.8" x2="741.0" y2="818.8" stroke="#000" stroke-width="1.80"/>
<path d="M590.0,797.0 L628.0,829.4 L655.0,829.4 L685.0,797.5" fill="none" stroke="#000" stroke-width="1.68" />
<rect x="542.5" y="824.0" width="7.5" height="5.4" rx="1" fill="none" stroke="#000" stroke-width="1.44"/>
<rect x="732.5" y="824.0" width="8.0" height="5.4" rx="1" fill="none" stroke="#000" stroke-width="1.44"/>
<line x1="523.5" y1="502.8" x2="759.4" y2="502.8" stroke="#666" stroke-width="1"/>
<path d="M523.5,502.8 L539.5,500.2 L539.5,505.4 Z" fill="#666"/>
<path d="M759.4,502.8 L743.4,505.4 L743.4,500.2 Z" fill="#666"/>
<line x1="523.5" y1="498.0" x2="523.5" y2="555.0" stroke="#666" stroke-width="1"/>
<line x1="759.4" y1="498.0" x2="759.4" y2="555.0" stroke="#666" stroke-width="1"/>
<text x="642.0" y="488.0" font-size="25" text-anchor="middle" dominant-baseline="central" class="dim">445</text>
<line x1="763.7" y1="556.7" x2="880.4" y2="556.7" stroke="#666" stroke-width="1"/>
<line x1="760.6" y1="599.4" x2="836.4" y2="599.4" stroke="#666" stroke-width="1"/>
<line x1="743.8" y1="829.5" x2="880.8" y2="829.5" stroke="#666" stroke-width="1"/>
<line x1="831.5" y1="523.0" x2="831.5" y2="829.5" stroke="#666" stroke-width="1"/>
<path d="M831.5,556.5 L828.9,540.5 L834.1,540.5 Z" fill="#666"/>
<path d="M831.5,599.6 L834.1,615.6 L828.9,615.6 Z" fill="#666"/>
<path d="M831.5,829.3 L828.9,813.3 L834.1,813.3 Z" fill="#666"/>
<line x1="875.4" y1="556.7" x2="875.4" y2="829.5" stroke="#666" stroke-width="1"/>
<path d="M875.4,556.9 L878.0,572.9 L872.8,572.9 Z" fill="#666"/>
<path d="M875.4,829.3 L872.8,813.3 L878.0,813.3 Z" fill="#666"/>
<text x="817.0" y="574.6" font-size="25" text-anchor="middle" dominant-baseline="central" class="dim" transform="rotate(-90 817.0 574.6)">80</text>
<text x="816.7" y="707.5" font-size="25" text-anchor="middle" dominant-baseline="central" class="dim" transform="rotate(-90 816.7 707.5)">430</text>
<text x="860.8" y="686.7" font-size="25" text-anchor="middle" dominant-baseline="central" class="dim" transform="rotate(-90 860.8 686.7)">510</text>
<line x1="539.5" y1="828.0" x2="539.5" y2="877.5" stroke="#666" stroke-width="1"/>
<line x1="743.8" y1="828.0" x2="743.8" y2="877.5" stroke="#666" stroke-width="1"/>
<line x1="539.5" y1="873.0" x2="743.8" y2="873.0" stroke="#666" stroke-width="1"/>
<path d="M539.5,873.0 L555.5,870.4 L555.5,875.6 Z" fill="#666"/>
<path d="M743.8,873.0 L727.8,875.6 L727.8,870.4 Z" fill="#666"/>
<text x="650.0" y="858.5" font-size="25" text-anchor="middle" dominant-baseline="central" class="dim">385</text>
<line x1="499.6" y1="676.0" x2="499.6" y2="911.0" stroke="#666" stroke-width="1"/>
<line x1="783.6" y1="676.0" x2="783.6" y2="911.0" stroke="#666" stroke-width="1"/>
<line x1="499.6" y1="906.2" x2="783.6" y2="906.2" stroke="#666" stroke-width="1"/>
<path d="M499.6,906.2 L515.6,903.6 L515.6,908.8 Z" fill="#666"/>
<path d="M783.6,906.2 L767.6,908.8 L767.6,903.6 Z" fill="#666"/>
<text x="650.0" y="891.7" font-size="25" text-anchor="middle" dominant-baseline="central" class="dim">535</text>
<path d="M1046.7,512.5 L1055.3,512.5 Q1056,512.5 1056,513.3 L1056,514.5 L1054,516 L1054,519.5 L1048,519.5 L1048,516 L1046,514.5 L1046,513.3 Q1046,512.5 1046.7,512.5 Z" fill="#fff" stroke="#000" stroke-width="1.56" />
<path d="M1027.7,528 Q1031,521 1051,519.6 Q1071,521 1074.3,528" fill="none" stroke="#000" stroke-width="1.68" />
<rect x="1026.7" y="528.3" width="48.6" height="2.8" rx="1" fill="none" stroke="#000" stroke-width="1.56"/>
<path d="M1027.4,531.2 C1027.4,541 1026,544.5 1021,549 M1074.6,531.2 C1074.6,541 1076,544.5 1081,549" fill="none" stroke="#000" stroke-width="1.80" />
<line x1="1021.0" y1="548.6" x2="1081.0" y2="548.6" stroke="#000" stroke-width="1.68"/>
<line x1="1021.0" y1="554.5" x2="1081.0" y2="554.5" stroke="#000" stroke-width="1.68"/>
<line x1="1021.0" y1="548.0" x2="1021.0" y2="598.0" stroke="#000" stroke-width="1.68"/>
<line x1="1080.6" y1="548.0" x2="1080.6" y2="598.0" stroke="#000" stroke-width="1.68"/>
<line x1="1021.0" y1="596.3" x2="1081.0" y2="596.3" stroke="#000" stroke-width="1.44"/>
<path d="M1010,555 L1020.3,555 L1020,565 L1005,586.9 L992.5,586.9 L992.5,585.8 Z" fill="#fff" stroke="#000" stroke-width="1.80" />
<path d="M1013,565 L1019.6,565 L1005,586.5 L1000,586.5 Z" fill="#000" stroke="#000" stroke-width="1.20" />
<path d="M1013,565.5 L1019,565.5 L1004.8,586 L1002.5,586 Z" fill="#fff" stroke="#000" stroke-width="0.00" />
<path d="M1022.5,597.5 L1022.5,605.5 Q1022.5,607.5 1024.5,607.5 L1062.4,607.5 Q1064.4,607.5 1064.4,605.5 L1064.4,597.5" fill="none" stroke="#000" stroke-width="1.68" />
<path d="M1118.5,556.5 L1135.5,556.5 L1151,562.5 L1157,562.5 L1172,556.5 L1193.5,556.5 L1193.5,599 M1159,599 L1159,590 L1172,593.5 L1192,593.5 M1148,599 L1148,589.5 L1135.5,593.5 L1118.5,593.5 Q1116.5,593.5 1116.5,591.5 L1116.5,558.5 Q1116.5,556.5 1118.5,556.5" fill="none" stroke="#000" stroke-width="1.80" />
<path d="M1123,563 L1137,563 L1148,568 L1148,584 L1137,587.5 L1123,587.5 Q1121.5,587.5 1121.5,586 L1121.5,564.5 Q1121.5,563 1123,563 Z" fill="none" stroke="#000" stroke-width="1.68" />
<path d="M1192,563 L1170,563 L1159,568 L1159,584 L1170,587.5 L1192,587.5" fill="none" stroke="#000" stroke-width="1.68" />
<line x1="1192.5" y1="556.5" x2="1192.5" y2="599.0" stroke="#000" stroke-width="2.40"/>
<path d="M970.8,601 Q970.8,599.5 972.5,599.5 L1194.2,599.5" fill="none" stroke="#000" stroke-width="2.88" />
<line x1="970.8" y1="600.0" x2="970.8" y2="782.0" stroke="#000" stroke-width="2.16"/>
<line x1="1194.2" y1="599.5" x2="1194.2" y2="782.0" stroke="#000" stroke-width="2.40"/>
<line x1="970.8" y1="609.4" x2="1194.2" y2="609.4" stroke="#000" stroke-width="1.80"/>
<line x1="1115.5" y1="599.5" x2="1115.5" y2="609.4" stroke="#000" stroke-width="1.56"/>
<circle cx="981.2" cy="604.8" r="1.9" fill="none" stroke="#000" stroke-width="1.56"/>
<circle cx="1083.0" cy="604.8" r="1.9" fill="none" stroke="#000" stroke-width="1.56"/>
<circle cx="1184.5" cy="604.5" r="1.9" fill="none" stroke="#000" stroke-width="1.56"/>
<line x1="970.8" y1="643.8" x2="1194.2" y2="643.8" stroke="#000" stroke-width="1.80"/>
<line x1="970.8" y1="670.8" x2="1194.2" y2="670.8" stroke="#000" stroke-width="1.80"/>
<line x1="970.8" y1="740.0" x2="1194.2" y2="740.0" stroke="#000" stroke-width="1.80"/>
<line x1="970.8" y1="781.8" x2="1194.2" y2="781.8" stroke="#000" stroke-width="3.12"/>
<path d=" M985.0,615.5 Q985.0,613.8 986.8,613.8 L1035.7,613.8 Q1037.5,613.8 1038.4,615.3 L1050.4,637.8 Q1051.2,639.4 1049.5,639.4 L986.8,639.4 Q985.0,639.4 985.0,637.6 Z" fill="none" stroke="#000" stroke-width="1.68"/>
<path d=" M1052.1,615.4 Q1051.2,613.8 1053.0,613.8 L1113.2,614.5 Q1115.0,614.5 1114.1,616.1 L1101.9,637.9 Q1101.0,639.5 1099.2,639.5 L1066.2,639.4 Q1064.4,639.4 1063.6,637.8 Z" fill="none" stroke="#000" stroke-width="1.68"/>
<path d=" M1126.2,616.1 Q1127.0,614.5 1128.8,614.5 L1178.7,614.5 Q1180.5,614.5 1180.5,616.3 L1180.5,637.7 Q1180.5,639.5 1178.7,639.5 L1115.8,639.5 Q1114.0,639.5 1114.8,637.9 Z" fill="none" stroke="#000" stroke-width="1.68"/>
<path d=" M985.0,684.3 Q985.0,682.5 986.8,682.5 L1047.2,682.5 Q1049.0,682.5 1048.3,684.2 L1031.5,725.8 Q1030.8,727.5 1029.0,727.5 L986.8,727.5 Q985.0,727.5 985.0,725.7 Z" fill="none" stroke="#000" stroke-width="1.68"/>
<path d=" M1062.5,684.1 Q1063.3,682.5 1065.1,682.5 L1099.9,682.5 Q1101.7,682.5 1102.5,684.1 L1122.5,725.9 Q1123.3,727.5 1121.5,727.5 L1044.3,727.5 Q1042.5,727.5 1043.3,725.9 Z" fill="none" stroke="#000" stroke-width="1.68"/>
<path d=" M1115.8,684.1 Q1115.0,682.5 1116.8,682.5 L1179.0,682.5 Q1180.8,682.5 1180.8,684.3 L1180.8,725.7 Q1180.8,727.5 1179.0,727.5 L1137.6,727.5 Q1135.8,727.5 1135.0,725.9 Z" fill="none" stroke="#000" stroke-width="1.68"/>
<circle cx="981.9" cy="613.0" r="1.7" fill="#000"/>
<circle cx="1045.6" cy="613.0" r="1.7" fill="#000"/>
<circle cx="1120.0" cy="612.5" r="1.7" fill="#000"/>
<circle cx="1183.5" cy="612.5" r="1.7" fill="#000"/>
<circle cx="981.9" cy="640.6" r="1.7" fill="#000"/>
<circle cx="1058.8" cy="640.6" r="1.7" fill="#000"/>
<circle cx="1106.5" cy="640.5" r="1.7" fill="#000"/>
<circle cx="1183.5" cy="640.5" r="1.7" fill="#000"/>
<circle cx="981.7" cy="680.0" r="1.7" fill="#000"/>
<circle cx="1055.8" cy="680.0" r="1.7" fill="#000"/>
<circle cx="1109.2" cy="680.0" r="1.7" fill="#000"/>
<circle cx="1183.3" cy="680.0" r="1.7" fill="#000"/>
<circle cx="981.7" cy="728.3" r="1.7" fill="#000"/>
<circle cx="1036.7" cy="728.3" r="1.7" fill="#000"/>
<circle cx="1129.2" cy="728.3" r="1.7" fill="#000"/>
<circle cx="1183.3" cy="728.3" r="1.7" fill="#000"/>
<rect x="965.5" y="610.0" width="5.3" height="111.7" rx="0" fill="none" stroke="#000" stroke-width="1.56"/>
<line x1="965.5" y1="649.5" x2="970.8" y2="649.5" stroke="#000" stroke-width="1.56"/>
<line x1="965.5" y1="667.5" x2="970.8" y2="667.5" stroke="#000" stroke-width="1.56"/>
<line x1="965.5" y1="697.5" x2="970.8" y2="697.5" stroke="#000" stroke-width="1.56"/>
<rect x="961.5" y="621.8" width="3.5" height="34.7" rx="1.5" fill="#000" stroke="#000" stroke-width="0.60"/>
<rect x="1194.2" y="610.0" width="5.0" height="87.5" rx="0" fill="none" stroke="#000" stroke-width="1.56"/>
<line x1="1194.2" y1="650.0" x2="1199.2" y2="650.0" stroke="#000" stroke-width="1.44"/>
<line x1="1194.2" y1="667.5" x2="1199.2" y2="667.5" stroke="#000" stroke-width="1.44"/>
<path d="M940,696.7 L940,687 Q945.4,683.5 950.8,687 L950.8,696.7 Z" fill="#000" stroke="#000" stroke-width="1.20" />
<circle cx="945.3" cy="690.8" r="1.8" fill="#fff" stroke="#000" stroke-width="1.08"/>
<path d="M940.5,696.7 L940.5,706.7 L941.5,716.7 L941.7,723.3 L949.2,723.3 L949.5,716.7 L950.5,706.7 L950.5,696.7" fill="#fff" stroke="#000" stroke-width="1.56" />
<line x1="940.5" y1="706.7" x2="950.5" y2="706.7" stroke="#000" stroke-width="1.56"/>
<line x1="941.5" y1="716.7" x2="949.5" y2="716.7" stroke="#000" stroke-width="1.56"/>
<rect x="950.8" y="703.3" width="14.2" height="10.0" rx="0" fill="#fff" stroke="#000" stroke-width="1.56"/>
<rect x="1004.6" y="751.7" width="10.4" height="19.1" rx="1" fill="none" stroke="#000" stroke-width="1.92"/>
<rect x="1007.0" y="754.2" width="5.5" height="13.8" rx="0" fill="none" stroke="#000" stroke-width="1.56"/>
<rect x="1026.7" y="742.5" width="56.6" height="38.0" rx="1" fill="none" stroke="#000" stroke-width="1.92"/>
<rect x="1035.4" y="744.6" width="39.2" height="9.6" rx="1" fill="none" stroke="#000" stroke-width="1.68"/>
<text x="1054.5" y="752.6" font-size="8" class="lbl" text-anchor="middle" textLength="21" lengthAdjust="spacingAndGlyphs">100 C</text>
<circle cx="1036.7" cy="770.8" r="3.2" fill="none" stroke="#000" stroke-width="2.64"/>
<circle cx="1072.0" cy="770.8" r="3.2" fill="none" stroke="#000" stroke-width="2.64"/>
<line x1="1016.7" y1="785.0" x2="1146.7" y2="785.0" stroke="#000" stroke-width="1.56"/>
<path d="M1006.7,790.8 L907.5,790.8 Q905,790.8 905,793.6 Q905,797.5 907.5,797.5 L1000,797.5" fill="none" stroke="#000" stroke-width="2.64" />
<rect x="917.5" y="798.3" width="43.3" height="30.9" rx="0" fill="none" stroke="#000" stroke-width="1.92"/>
<path d="M1016.7,785.0 L976.7,808.3 L976.7,823.3 L990.0,823.3 L1083.3,799.2 L1175.0,822.8 L1189.2,823.3 L1189.2,808.3 L1146.7,785.0" fill="none" stroke="#000" stroke-width="1.80" stroke-linejoin="round"/>
<rect x="979.0" y="823.3" width="11.0" height="5.9" rx="1" fill="none" stroke="#000" stroke-width="1.56"/>
<rect x="1176.0" y="823.3" width="11.5" height="5.9" rx="1" fill="none" stroke="#000" stroke-width="1.56"/>
<circle cx="991.7" cy="804.7" r="1.8" fill="none" stroke="#000" stroke-width="1.44"/>
<circle cx="980.8" cy="815.3" r="1.8" fill="none" stroke="#000" stroke-width="1.44"/>
<circle cx="1032.0" cy="801.7" r="1.8" fill="none" stroke="#000" stroke-width="1.44"/>
<circle cx="1133.7" cy="801.7" r="1.8" fill="none" stroke="#000" stroke-width="1.44"/>
<circle cx="1173.3" cy="804.7" r="1.8" fill="none" stroke="#000" stroke-width="1.44"/>
<circle cx="1185.0" cy="815.3" r="1.8" fill="none" stroke="#000" stroke-width="1.44"/>
<line x1="939.5" y1="430.0" x2="939.5" y2="683.0" stroke="#666" stroke-width="1"/>
<line x1="965.5" y1="480.0" x2="965.5" y2="609.0" stroke="#666" stroke-width="1"/>
<line x1="1198.8" y1="430.0" x2="1198.8" y2="599.0" stroke="#666" stroke-width="1"/>
<line x1="939.5" y1="435.8" x2="1198.8" y2="435.8" stroke="#666" stroke-width="1"/>
<path d="M939.5,435.8 L955.5,433.2 L955.5,438.4 Z" fill="#666"/>
<path d="M1198.8,435.8 L1182.8,438.4 L1182.8,433.2 Z" fill="#666"/>
<text x="1083.8" y="421.3" font-size="25" text-anchor="middle" dominant-baseline="central" class="dim">490</text>
<line x1="908.8" y1="485.0" x2="1198.8" y2="485.0" stroke="#666" stroke-width="1"/>
<path d="M939.5,485.0 L923.5,487.6 L923.5,482.4 Z" fill="#666"/>
<path d="M965.5,485.0 L981.5,482.4 L981.5,487.6 Z" fill="#666"/>
<path d="M1198.8,485.0 L1182.8,487.6 L1182.8,482.4 Z" fill="#666"/>
<text x="956.3" y="470.0" font-size="25" text-anchor="middle" dominant-baseline="central" class="dim">50</text>
<text x="1083.8" y="470.0" font-size="25" text-anchor="middle" dominant-baseline="central" class="dim">440</text>
<line x1="905.0" y1="755.0" x2="905.0" y2="787.0" stroke="#666" stroke-width="1"/>
<line x1="905.0" y1="760.0" x2="970.0" y2="760.0" stroke="#666" stroke-width="1"/>
<path d="M905.0,760.0 L921.0,757.4 L921.0,762.6 Z" fill="#666"/>
<path d="M970.0,760.0 L954.0,762.6 L954.0,757.4 Z" fill="#666"/>
<text x="943.0" y="746.0" font-size="25" text-anchor="middle" dominant-baseline="central" class="dim">124</text>
<g id="isoA">
<path d="M35.8,315.8 L175.7,233.4 L358.5,322.6 L201.3,409.7 Z" fill="#fff" stroke="#000" stroke-width="0.00" />
<path d="M138.75,243 L138.75,221 L191.8,189.3 L252.5,223.2 L260,232 L288.5,248 L299,250.3 L358.5,283.6 L358.5,322.6 L175.7,233.4 Z" fill="#fff" stroke="#000" stroke-width="0.00" />
<path d="M138.2,242.5 L138.2,221.0 L141.0,218.0 L152.2,210.3 L162.7,208.6 L168.0,204.0 L179.0,195.2 L191.8,187.6 L252.5,221.4 L258.3,229.0 L262.8,234.0" fill="none" stroke="#000" stroke-width="2.04" stroke-linejoin="round"/>
<line x1="191.8" y1="187.6" x2="191.8" y2="192.8" stroke="#000" stroke-width="1.80"/>
<path d="M161.5,238.5 L161.5,212.0" fill="none" stroke="#000" stroke-width="1.68" />
<path d="M138.2,242.5 L161.5,238.5" fill="none" stroke="#000" stroke-width="1.80" />
<path d="M168.5,224.0 L168.5,210.5 L171.5,207.0 L179.0,200.0 L191.8,192.8 L251.3,224.9 L257.0,231.0 L258.3,246.5 L262.0,249.0" fill="none" stroke="#000" stroke-width="1.80" stroke-linejoin="round"/>
<path d="M168.5,224.0 L176.7,220.5 L191.8,213.3 L257.2,247.7" fill="none" stroke="#000" stroke-width="1.80" stroke-linejoin="round"/>
<path d="M143.5,223 Q141.7,223.5 141.7,225.5 L141.7,233 Q141.7,235 143.7,234.3 L158.5,229.5 Q160.3,229 160.3,227 L160.3,217 Q160.3,215 158.5,215.6 Z" fill="none" stroke="#000" stroke-width="1.68" />
<path d="M168.5,233.0 L191.8,218.5 L264.0,258.0" fill="none" stroke="#000" stroke-width="1.56" stroke-linejoin="round"/>
<path d="M169.7,235.5 L191.8,222.6 L270.0,264.0" fill="none" stroke="#000" stroke-width="1.56" stroke-linejoin="round"/>
<line x1="191.8" y1="213.3" x2="191.8" y2="222.6" stroke="#000" stroke-width="1.44"/>
<path d="M162.7,239.5 L168.0,237.2 L172.0,239.5 L167.0,241.8 Z" fill="none" stroke="#000" stroke-width="1.44" />
<path d="M252.5,223.2 L262.8,234.0 L288.5,248.0 L299.0,250.3 L358.5,283.6 L359.6,287.6 L343.3,294.6 L337.0,300.0 L335.0,304.0" fill="none" stroke="#000" stroke-width="1.92" stroke-linejoin="round"/>
<path d="M259.5,247.7 L262.8,250.0 L285.0,262.0 L285.0,267.8" fill="none" stroke="#000" stroke-width="1.44" stroke-linejoin="round"/>
<path d="M285.0,267.8 L288.5,271.3 L296.6,278.3 L331.6,300.5" fill="none" stroke="#000" stroke-width="1.56" stroke-linejoin="round"/>
<path d="M292.6,256.2 L300.1,257.9 L352.6,284.7 L350.3,287.0 L304.8,278.3 L293.1,266.6 Z" fill="none" stroke="#000" stroke-width="1.68" stroke-linejoin="round"/>
<circle cx="271.0" cy="246.8" r="1.4" fill="#000"/>
<circle cx="280.3" cy="252.0" r="1.4" fill="#000"/>
<circle cx="275.7" cy="263.1" r="1.4" fill="#000"/>
<path d="M262.8,267.8 L268.0,266.0 L282.7,274.3 L277.5,278.3 Z" fill="none" stroke="#000" stroke-width="1.44" />
<circle cx="266.0" cy="268.5" r="1.0" fill="#000"/>
<circle cx="277.0" cy="275.0" r="1.0" fill="#000"/>
<path d="M35.8,315.8 L98.0,279.0" fill="none" stroke="#000" stroke-width="1.92" />
<path d="M358.5,322.6 L201.3,409.7" fill="none" stroke="#000" stroke-width="2.40" />
<path d="M58.3,315.0 L190.0,238.0 L340.0,313.4 L202.0,397.0 Z" fill="none" stroke="#000" stroke-width="2.40" stroke-linejoin="round"/>
<line x1="192.0" y1="404.0" x2="202.0" y2="397.0" stroke="#000" stroke-width="1.20"/>
<path d="M155.7,258.2 L191.8,237.2 L204.7,241.8" fill="none" stroke="#000" stroke-width="2.40" stroke-linejoin="round"/>
<line x1="260.5" y1="274.8" x2="359.3" y2="313.0" stroke="#000" stroke-width="2.40"/>
<line x1="260.5" y1="277.5" x2="342.0" y2="318.0" stroke="#000" stroke-width="1.20"/>
<path d="M304.7,318.5 Q304.7,316.7 306.5,316 L318,309.3 L328.7,306.7 L332.7,305.3 L338,300 L343.3,294.6 L336.3,304 L336.3,306 L348.7,312 L359.3,310 L359.3,316 L346,323.3 L336.7,324 L335.3,330 L328,330 L324,333.3 L318,339.3 L307,345.3 Q305.3,345.5 305.3,343.5 Z" fill="#fff" stroke="#000" stroke-width="1.92" stroke-linejoin="round"/>
<path d="M310.5,319.8 L325.5,313.5 Q327.3,312.8 327.3,314.5 L327.3,323.5 L311,337.5 Q309.3,338.6 309.3,336.5 L309.3,321.5 Q309.3,320.3 310.5,319.8 Z" fill="none" stroke="#000" stroke-width="1.68" />
<path d="M309.5,330 L327,319 L327,323.5 L311,337.3 L309.5,337 Z" fill="#000" stroke="#000" stroke-width="0.60" />
<path d="M336.3,308.0 L348.7,314.0 L342.7,319.3 L336.3,320.0 Z" fill="none" stroke="#000" stroke-width="1.56" stroke-linejoin="round"/>
<line x1="328.0" y1="307.0" x2="328.0" y2="330.0" stroke="#000" stroke-width="1.56"/>
<path d="M348.7,318.7 L359.3,314.0 L359.3,332.0 L348.7,337.0" fill="#fff" stroke="#000" stroke-width="1.68" stroke-linejoin="round" />
<circle cx="352.7" cy="328.0" r="1.4" fill="#000"/>
<path d="M262.2,361.9 L295.4,354.3 L296.0,363.3 L266.2,380.3 Z" fill="#fff" stroke="#000" stroke-width="1.68" stroke-linejoin="round" />
<path d="M257.5,360.0 L274.4,350.5 L295.4,354.3 L262.2,361.9 Z" fill="#fff" stroke="#000" stroke-width="1.68" stroke-linejoin="round" />
<path d="M257.5,360.0 L257.5,361.5 L262.2,363.5" fill="none" stroke="#000" stroke-width="1.44" />
<path d="M266.2,370.3 L294.8,355.2" fill="none" stroke="#000" stroke-width="1.20" />
<path d="M266.2,371.8 L294.8,356.7" fill="none" stroke="#000" stroke-width="1.20" />
<ellipse cx="274.4" cy="358.7" rx="2.6" ry="1.2" fill="none" stroke="#000" stroke-width="1.68" transform="rotate(25 274.4 358.7)"/>
<path d="M198.0,264.0 L182.0,264.5 L179.0,267.5 L160.5,292.5 L161.5,297.2 L168.0,298.2 L186.5,271.7 L198.0,270.7 Z" fill="#fff" stroke="#000" stroke-width="1.80" stroke-linejoin="round"/>
<line x1="183.0" y1="268.5" x2="164.5" y2="295.5" stroke="#000" stroke-width="1.56"/>
<line x1="182.0" y1="264.5" x2="183.0" y2="268.5" stroke="#000" stroke-width="1.44"/>
<line x1="183.0" y1="268.5" x2="198.0" y2="268.0" stroke="#000" stroke-width="1.20"/>
<ellipse cx="228.0" cy="298.0" rx="32.5" ry="18.5" fill="#fff" stroke="#000" stroke-width="1.80" transform="rotate(0 228.0 298.0)"/>
<path d="M196.5,298.0 A31.5,17.0 0 0 0 259.5,298.0" fill="none" stroke="#000" stroke-width="1.44" />
<path d="M197.5,262.5 L197.5,297.0 A30.5,15.5 0 0 0 258.5,297.0 L258.5,262.5 Z" fill="#fff" stroke="#000" stroke-width="1.80" />
<path d="M197.5,262.5 A30.5,13.3 0 0 0 258.5,262.5" fill="none" stroke="#000" stroke-width="1.68" />
<path d="M197.5,269.0 A30.5,13.3 0 0 0 258.5,269.0" fill="none" stroke="#000" stroke-width="1.68" />
<path d="M197.5,262.5 Q197.8,252.5 201.7,248.5 L254.3,248.5 Q258.2,252.5 258.5,262.5 A30.5,13.3 0 0 1 197.5,262.5 Z" fill="#fff" stroke="#000" stroke-width="1.80" />
<path d="M203.8,246.5 L203.8,242.5 A24.2,14.0 0 0 1 252.2,242.5 L252.2,246.5 A24.2,10.3 0 0 1 203.8,246.5 Z" fill="#fff" stroke="#000" stroke-width="1.80" />
<path d="M203.8,246.5 A24.2,10.3 0 0 0 252.2,246.5" fill="none" stroke="#000" stroke-width="1.68" />
<path d="M204.8,248.0 A23.2,10.3 0 0 0 251.2,248.0" fill="none" stroke="#000" stroke-width="1.32" />
<path d="M223.8,229.5 L223.8,236.5 A4.2,2.0 0 0 0 232.2,236.5 L232.2,229.5 Z" fill="#fff" stroke="#000" stroke-width="1.68" />
<ellipse cx="228.0" cy="229.5" rx="4.2" ry="2.0" fill="#fff" stroke="#000" stroke-width="1.68" transform="rotate(0 228.0 229.5)"/>
<path d="M223.8,233.5 A4.2,2.0 0 0 0 232.2,233.5" fill="none" stroke="#000" stroke-width="1.92" />
<path d="M101.0,280.0 L85.0,280.5 L82.0,283.5 L63.5,308.5 L64.5,313.2 L71.0,314.2 L89.5,287.7 L101.0,286.7 Z" fill="#fff" stroke="#000" stroke-width="1.80" stroke-linejoin="round"/>
<line x1="86.0" y1="284.5" x2="67.5" y2="311.5" stroke="#000" stroke-width="1.56"/>
<line x1="85.0" y1="280.5" x2="86.0" y2="284.5" stroke="#000" stroke-width="1.44"/>
<line x1="86.0" y1="284.5" x2="101.0" y2="284.0" stroke="#000" stroke-width="1.20"/>
<ellipse cx="131.0" cy="314.0" rx="32.5" ry="18.5" fill="#fff" stroke="#000" stroke-width="1.80" transform="rotate(0 131.0 314.0)"/>
<path d="M99.5,314.0 A31.5,17.0 0 0 0 162.5,314.0" fill="none" stroke="#000" stroke-width="1.44" />
<path d="M100.5,278.5 L100.5,313.0 A30.5,15.5 0 0 0 161.5,313.0 L161.5,278.5 Z" fill="#fff" stroke="#000" stroke-width="1.80" />
<path d="M100.5,278.5 A30.5,13.3 0 0 0 161.5,278.5" fill="none" stroke="#000" stroke-width="1.68" />
<path d="M100.5,285.0 A30.5,13.3 0 0 0 161.5,285.0" fill="none" stroke="#000" stroke-width="1.68" />
<path d="M100.5,278.5 Q100.8,268.5 104.7,264.5 L157.3,264.5 Q161.2,268.5 161.5,278.5 A30.5,13.3 0 0 1 100.5,278.5 Z" fill="#fff" stroke="#000" stroke-width="1.80" />
<path d="M106.8,262.5 L106.8,258.5 A24.2,14.0 0 0 1 155.2,258.5 L155.2,262.5 A24.2,10.3 0 0 1 106.8,262.5 Z" fill="#fff" stroke="#000" stroke-width="1.80" />
<path d="M106.8,262.5 A24.2,10.3 0 0 0 155.2,262.5" fill="none" stroke="#000" stroke-width="1.68" />
<path d="M107.8,264.0 A23.2,10.3 0 0 0 154.2,264.0" fill="none" stroke="#000" stroke-width="1.32" />
<path d="M126.8,245.5 L126.8,252.5 A4.2,2.0 0 0 0 135.2,252.5 L135.2,245.5 Z" fill="#fff" stroke="#000" stroke-width="1.68" />
<ellipse cx="131.0" cy="245.5" rx="4.2" ry="2.0" fill="#fff" stroke="#000" stroke-width="1.68" transform="rotate(0 131.0 245.5)"/>
<path d="M126.8,249.5 A4.2,2.0 0 0 0 135.2,249.5" fill="none" stroke="#000" stroke-width="1.92" />
<path d="M172.5,319.0 L156.5,319.5 L153.5,322.5 L135.0,347.5 L136.0,352.2 L142.5,353.2 L161.0,326.7 L172.5,325.7 Z" fill="#fff" stroke="#000" stroke-width="1.80" stroke-linejoin="round"/>
<line x1="157.5" y1="323.5" x2="139.0" y2="350.5" stroke="#000" stroke-width="1.56"/>
<line x1="156.5" y1="319.5" x2="157.5" y2="323.5" stroke="#000" stroke-width="1.44"/>
<line x1="157.5" y1="323.5" x2="172.5" y2="323.0" stroke="#000" stroke-width="1.20"/>
<ellipse cx="202.5" cy="353.0" rx="32.5" ry="18.5" fill="#fff" stroke="#000" stroke-width="1.80" transform="rotate(0 202.5 353.0)"/>
<path d="M171.0,353.0 A31.5,17.0 0 0 0 234.0,353.0" fill="none" stroke="#000" stroke-width="1.44" />
<path d="M172.0,317.5 L172.0,352.0 A30.5,15.5 0 0 0 233.0,352.0 L233.0,317.5 Z" fill="#fff" stroke="#000" stroke-width="1.80" />
<path d="M172.0,317.5 A30.5,13.3 0 0 0 233.0,317.5" fill="none" stroke="#000" stroke-width="1.68" />
<path d="M172.0,324.0 A30.5,13.3 0 0 0 233.0,324.0" fill="none" stroke="#000" stroke-width="1.68" />
<path d="M172.0,317.5 Q172.3,307.5 176.2,303.5 L228.8,303.5 Q232.7,307.5 233.0,317.5 A30.5,13.3 0 0 1 172.0,317.5 Z" fill="#fff" stroke="#000" stroke-width="1.80" />
<path d="M178.3,301.5 L178.3,297.5 A24.2,14.0 0 0 1 226.7,297.5 L226.7,301.5 A24.2,10.3 0 0 1 178.3,301.5 Z" fill="#fff" stroke="#000" stroke-width="1.80" />
<path d="M178.3,301.5 A24.2,10.3 0 0 0 226.7,301.5" fill="none" stroke="#000" stroke-width="1.68" />
<path d="M179.3,303.0 A23.2,10.3 0 0 0 225.7,303.0" fill="none" stroke="#000" stroke-width="1.32" />
<path d="M198.3,284.5 L198.3,291.5 A4.2,2.0 0 0 0 206.7,291.5 L206.7,284.5 Z" fill="#fff" stroke="#000" stroke-width="1.68" />
<ellipse cx="202.5" cy="284.5" rx="4.2" ry="2.0" fill="#fff" stroke="#000" stroke-width="1.68" transform="rotate(0 202.5 284.5)"/>
<path d="M198.3,288.5 A4.2,2.0 0 0 0 206.7,288.5" fill="none" stroke="#000" stroke-width="1.92" />
<path d="M224.0,536.0 L194.0,572.0 L194.0,584.0 L197.0,586.0 L270.0,522.0 L280.0,518.5 L340.8,504.8 L343.6,488.3 L322.5,477.3" fill="#fff" stroke="#000" stroke-width="1.92" stroke-linejoin="round" />
<path d="M180.0,572.0 L194.0,580.0" fill="none" stroke="#000" stroke-width="1.44" />
<path d="M186.0,568.0 L194.0,572.0" fill="none" stroke="#000" stroke-width="1.44" />
<path d="M180.0,572.0 L186.0,568.0" fill="none" stroke="#000" stroke-width="1.44" />
<line x1="225.0" y1="537.5" x2="280.0" y2="506.0" stroke="#000" stroke-width="1.44"/>
<path d="M188.7,580 L188.7,584.6 L196,584.6 L196,581" fill="none" stroke="#000" stroke-width="1.56" />
<line x1="224.0" y1="535.0" x2="316.0" y2="482.0" stroke="#000" stroke-width="1.56"/>
<path d="M180,566 L180,580 L190,583" fill="none" stroke="#000" stroke-width="1.44" />
<circle cx="233.6" cy="544.3" r="1.4" fill="#000"/>
<circle cx="305.0" cy="503.0" r="1.4" fill="#000"/>
<circle cx="333.5" cy="489.3" r="1.4" fill="#000"/>
<circle cx="341.8" cy="493.0" r="1.4" fill="#000"/>
<circle cx="205.2" cy="561.7" r="1.4" fill="#000"/>
<circle cx="197.0" cy="575.4" r="1.4" fill="#000"/>
<path d="M2.0,505.3 L2.0,508.8 Q2.0,510.3 3.5,510.8 L141.7,591.5 L221.7,542.0 L221.7,537.5 Z" fill="#fff" stroke="#000" stroke-width="1.32" stroke-linejoin="round"/>
<path d="M2.0,505.3 L141.7,587.0 L221.7,537.5 L82.0,455.8 Z" fill="#fff" stroke="#000" stroke-width="0.00" stroke-linejoin="round"/>
<path d="M82.0,455.8 L2.0,505.3 L141.7,587.0 L221.7,537.5" fill="none" stroke="#000" stroke-width="2.40" stroke-linejoin="round"/>
<path d="M5.5,505.3 L141.2,584.0 L221.7,534.5" fill="none" stroke="#000" stroke-width="1.20" stroke-linejoin="round"/>
<path d="M5.5,505.3 L83.5,456.8" fill="none" stroke="#000" stroke-width="1.20" />
<path d="M11.4,505.1 a1.9,1.3 0 1 0 3.8,0 a1.9,1.3 0 1 0 -3.8,0 M17.0,501.7 a1.9,1.3 0 1 0 3.8,0 a1.9,1.3 0 1 0 -3.8,0 M22.5,498.2 a1.9,1.3 0 1 0 3.8,0 a1.9,1.3 0 1 0 -3.8,0 M28.1,494.7 a1.9,1.3 0 1 0 3.8,0 a1.9,1.3 0 1 0 -3.8,0 M33.7,491.3 a1.9,1.3 0 1 0 3.8,0 a1.9,1.3 0 1 0 -3.8,0 M39.3,487.8 a1.9,1.3 0 1 0 3.8,0 a1.9,1.3 0 1 0 -3.8,0 M44.9,484.3 a1.9,1.3 0 1 0 3.8,0 a1.9,1.3 0 1 0 -3.8,0 M50.5,480.9 a1.9,1.3 0 1 0 3.8,0 a1.9,1.3 0 1 0 -3.8,0 M56.1,477.4 a1.9,1.3 0 1 0 3.8,0 a1.9,1.3 0 1 0 -3.8,0 M61.7,473.9 a1.9,1.3 0 1 0 3.8,0 a1.9,1.3 0 1 0 -3.8,0 M67.3,470.4 a1.9,1.3 0 1 0 3.8,0 a1.9,1.3 0 1 0 -3.8,0 M72.8,467.0 a1.9,1.3 0 1 0 3.8,0 a1.9,1.3 0 1 0 -3.8,0 M78.4,463.5 a1.9,1.3 0 1 0 3.8,0 a1.9,1.3 0 1 0 -3.8,0 M17.0,508.4 a1.9,1.3 0 1 0 3.8,0 a1.9,1.3 0 1 0 -3.8,0 M22.6,505.0 a1.9,1.3 0 1 0 3.8,0 a1.9,1.3 0 1 0 -3.8,0 M28.2,501.5 a1.9,1.3 0 1 0 3.8,0 a1.9,1.3 0 1 0 -3.8,0 M33.8,498.0 a1.9,1.3 0 1 0 3.8,0 a1.9,1.3 0 1 0 -3.8,0 M39.4,494.6 a1.9,1.3 0 1 0 3.8,0 a1.9,1.3 0 1 0 -3.8,0 M45.0,491.1 a1.9,1.3 0 1 0 3.8,0 a1.9,1.3 0 1 0 -3.8,0 M50.6,487.6 a1.9,1.3 0 1 0 3.8,0 a1.9,1.3 0 1 0 -3.8,0 M56.2,484.2 a1.9,1.3 0 1 0 3.8,0 a1.9,1.3 0 1 0 -3.8,0 M61.8,480.7 a1.9,1.3 0 1 0 3.8,0 a1.9,1.3 0 1 0 -3.8,0 M67.3,477.2 a1.9,1.3 0 1 0 3.8,0 a1.9,1.3 0 1 0 -3.8,0 M72.9,473.8 a1.9,1.3 0 1 0 3.8,0 a1.9,1.3 0 1 0 -3.8,0 M78.5,470.3 a1.9,1.3 0 1 0 3.8,0 a1.9,1.3 0 1 0 -3.8,0 M84.1,466.8 a1.9,1.3 0 1 0 3.8,0 a1.9,1.3 0 1 0 -3.8,0 M28.3,508.3 a1.9,1.3 0 1 0 3.8,0 a1.9,1.3 0 1 0 -3.8,0 M33.9,504.8 a1.9,1.3 0 1 0 3.8,0 a1.9,1.3 0 1 0 -3.8,0 M39.5,501.4 a1.9,1.3 0 1 0 3.8,0 a1.9,1.3 0 1 0 -3.8,0 M45.1,497.9 a1.9,1.3 0 1 0 3.8,0 a1.9,1.3 0 1 0 -3.8,0 M50.6,494.4 a1.9,1.3 0 1 0 3.8,0 a1.9,1.3 0 1 0 -3.8,0 M56.2,490.9 a1.9,1.3 0 1 0 3.8,0 a1.9,1.3 0 1 0 -3.8,0 M61.8,487.5 a1.9,1.3 0 1 0 3.8,0 a1.9,1.3 0 1 0 -3.8,0 M67.4,484.0 a1.9,1.3 0 1 0 3.8,0 a1.9,1.3 0 1 0 -3.8,0 M73.0,480.5 a1.9,1.3 0 1 0 3.8,0 a1.9,1.3 0 1 0 -3.8,0 M78.6,477.1 a1.9,1.3 0 1 0 3.8,0 a1.9,1.3 0 1 0 -3.8,0 M84.2,473.6 a1.9,1.3 0 1 0 3.8,0 a1.9,1.3 0 1 0 -3.8,0 M89.8,470.1 a1.9,1.3 0 1 0 3.8,0 a1.9,1.3 0 1 0 -3.8,0 M28.4,515.1 a1.9,1.3 0 1 0 3.8,0 a1.9,1.3 0 1 0 -3.8,0 M34.0,511.6 a1.9,1.3 0 1 0 3.8,0 a1.9,1.3 0 1 0 -3.8,0 M39.6,508.1 a1.9,1.3 0 1 0 3.8,0 a1.9,1.3 0 1 0 -3.8,0 M45.1,504.7 a1.9,1.3 0 1 0 3.8,0 a1.9,1.3 0 1 0 -3.8,0 M50.7,501.2 a1.9,1.3 0 1 0 3.8,0 a1.9,1.3 0 1 0 -3.8,0 M56.3,497.7 a1.9,1.3 0 1 0 3.8,0 a1.9,1.3 0 1 0 -3.8,0 M61.9,494.2 a1.9,1.3 0 1 0 3.8,0 a1.9,1.3 0 1 0 -3.8,0 M67.5,490.8 a1.9,1.3 0 1 0 3.8,0 a1.9,1.3 0 1 0 -3.8,0 M73.1,487.3 a1.9,1.3 0 1 0 3.8,0 a1.9,1.3 0 1 0 -3.8,0 M78.7,483.8 a1.9,1.3 0 1 0 3.8,0 a1.9,1.3 0 1 0 -3.8,0 M84.3,480.4 a1.9,1.3 0 1 0 3.8,0 a1.9,1.3 0 1 0 -3.8,0 M89.9,476.9 a1.9,1.3 0 1 0 3.8,0 a1.9,1.3 0 1 0 -3.8,0 M95.4,473.4 a1.9,1.3 0 1 0 3.8,0 a1.9,1.3 0 1 0 -3.8,0 M34.0,518.4 a1.9,1.3 0 1 0 3.8,0 a1.9,1.3 0 1 0 -3.8,0 M39.6,514.9 a1.9,1.3 0 1 0 3.8,0 a1.9,1.3 0 1 0 -3.8,0 M45.2,511.4 a1.9,1.3 0 1 0 3.8,0 a1.9,1.3 0 1 0 -3.8,0 M50.8,508.0 a1.9,1.3 0 1 0 3.8,0 a1.9,1.3 0 1 0 -3.8,0 M56.4,504.5 a1.9,1.3 0 1 0 3.8,0 a1.9,1.3 0 1 0 -3.8,0 M62.0,501.0 a1.9,1.3 0 1 0 3.8,0 a1.9,1.3 0 1 0 -3.8,0 M67.6,497.6 a1.9,1.3 0 1 0 3.8,0 a1.9,1.3 0 1 0 -3.8,0 M73.2,494.1 a1.9,1.3 0 1 0 3.8,0 a1.9,1.3 0 1 0 -3.8,0 M78.8,490.6 a1.9,1.3 0 1 0 3.8,0 a1.9,1.3 0 1 0 -3.8,0 M84.3,487.2 a1.9,1.3 0 1 0 3.8,0 a1.9,1.3 0 1 0 -3.8,0 M89.9,483.7 a1.9,1.3 0 1 0 3.8,0 a1.9,1.3 0 1 0 -3.8,0 M95.5,480.2 a1.9,1.3 0 1 0 3.8,0 a1.9,1.3 0 1 0 -3.8,0 M101.1,476.7 a1.9,1.3 0 1 0 3.8,0 a1.9,1.3 0 1 0 -3.8,0 M39.7,521.7 a1.9,1.3 0 1 0 3.8,0 a1.9,1.3 0 1 0 -3.8,0 M45.3,518.2 a1.9,1.3 0 1 0 3.8,0 a1.9,1.3 0 1 0 -3.8,0 M50.9,514.8 a1.9,1.3 0 1 0 3.8,0 a1.9,1.3 0 1 0 -3.8,0 M56.5,511.3 a1.9,1.3 0 1 0 3.8,0 a1.9,1.3 0 1 0 -3.8,0 M62.1,507.8 a1.9,1.3 0 1 0 3.8,0 a1.9,1.3 0 1 0 -3.8,0 M67.7,504.3 a1.9,1.3 0 1 0 3.8,0 a1.9,1.3 0 1 0 -3.8,0 M73.2,500.9 a1.9,1.3 0 1 0 3.8,0 a1.9,1.3 0 1 0 -3.8,0 M78.8,497.4 a1.9,1.3 0 1 0 3.8,0 a1.9,1.3 0 1 0 -3.8,0 M84.4,493.9 a1.9,1.3 0 1 0 3.8,0 a1.9,1.3 0 1 0 -3.8,0 M90.0,490.5 a1.9,1.3 0 1 0 3.8,0 a1.9,1.3 0 1 0 -3.8,0 M95.6,487.0 a1.9,1.3 0 1 0 3.8,0 a1.9,1.3 0 1 0 -3.8,0 M101.2,483.5 a1.9,1.3 0 1 0 3.8,0 a1.9,1.3 0 1 0 -3.8,0 M106.8,480.0 a1.9,1.3 0 1 0 3.8,0 a1.9,1.3 0 1 0 -3.8,0 M45.4,525.0 a1.9,1.3 0 1 0 3.8,0 a1.9,1.3 0 1 0 -3.8,0 M51.0,521.5 a1.9,1.3 0 1 0 3.8,0 a1.9,1.3 0 1 0 -3.8,0 M56.6,518.1 a1.9,1.3 0 1 0 3.8,0 a1.9,1.3 0 1 0 -3.8,0 M62.1,514.6 a1.9,1.3 0 1 0 3.8,0 a1.9,1.3 0 1 0 -3.8,0 M67.7,511.1 a1.9,1.3 0 1 0 3.8,0 a1.9,1.3 0 1 0 -3.8,0 M73.3,507.7 a1.9,1.3 0 1 0 3.8,0 a1.9,1.3 0 1 0 -3.8,0 M78.9,504.2 a1.9,1.3 0 1 0 3.8,0 a1.9,1.3 0 1 0 -3.8,0 M84.5,500.7 a1.9,1.3 0 1 0 3.8,0 a1.9,1.3 0 1 0 -3.8,0 M90.1,497.2 a1.9,1.3 0 1 0 3.8,0 a1.9,1.3 0 1 0 -3.8,0 M95.7,493.8 a1.9,1.3 0 1 0 3.8,0 a1.9,1.3 0 1 0 -3.8,0 M101.3,490.3 a1.9,1.3 0 1 0 3.8,0 a1.9,1.3 0 1 0 -3.8,0 M106.9,486.8 a1.9,1.3 0 1 0 3.8,0 a1.9,1.3 0 1 0 -3.8,0 M112.5,483.4 a1.9,1.3 0 1 0 3.8,0 a1.9,1.3 0 1 0 -3.8,0 M51.1,528.3 a1.9,1.3 0 1 0 3.8,0 a1.9,1.3 0 1 0 -3.8,0 M56.6,524.8 a1.9,1.3 0 1 0 3.8,0 a1.9,1.3 0 1 0 -3.8,0 M62.2,521.4 a1.9,1.3 0 1 0 3.8,0 a1.9,1.3 0 1 0 -3.8,0 M67.8,517.9 a1.9,1.3 0 1 0 3.8,0 a1.9,1.3 0 1 0 -3.8,0 M73.4,514.4 a1.9,1.3 0 1 0 3.8,0 a1.9,1.3 0 1 0 -3.8,0 M79.0,511.0 a1.9,1.3 0 1 0 3.8,0 a1.9,1.3 0 1 0 -3.8,0 M84.6,507.5 a1.9,1.3 0 1 0 3.8,0 a1.9,1.3 0 1 0 -3.8,0 M90.2,504.0 a1.9,1.3 0 1 0 3.8,0 a1.9,1.3 0 1 0 -3.8,0 M95.8,500.5 a1.9,1.3 0 1 0 3.8,0 a1.9,1.3 0 1 0 -3.8,0 M101.4,497.1 a1.9,1.3 0 1 0 3.8,0 a1.9,1.3 0 1 0 -3.8,0 M106.9,493.6 a1.9,1.3 0 1 0 3.8,0 a1.9,1.3 0 1 0 -3.8,0 M112.5,490.1 a1.9,1.3 0 1 0 3.8,0 a1.9,1.3 0 1 0 -3.8,0 M118.1,486.7 a1.9,1.3 0 1 0 3.8,0 a1.9,1.3 0 1 0 -3.8,0 M56.7,531.6 a1.9,1.3 0 1 0 3.8,0 a1.9,1.3 0 1 0 -3.8,0 M62.3,528.1 a1.9,1.3 0 1 0 3.8,0 a1.9,1.3 0 1 0 -3.8,0 M67.9,524.7 a1.9,1.3 0 1 0 3.8,0 a1.9,1.3 0 1 0 -3.8,0 M73.5,521.2 a1.9,1.3 0 1 0 3.8,0 a1.9,1.3 0 1 0 -3.8,0 M79.1,517.7 a1.9,1.3 0 1 0 3.8,0 a1.9,1.3 0 1 0 -3.8,0 M84.7,514.3 a1.9,1.3 0 1 0 3.8,0 a1.9,1.3 0 1 0 -3.8,0 M90.3,510.8 a1.9,1.3 0 1 0 3.8,0 a1.9,1.3 0 1 0 -3.8,0 M95.8,507.3 a1.9,1.3 0 1 0 3.8,0 a1.9,1.3 0 1 0 -3.8,0 M101.4,503.9 a1.9,1.3 0 1 0 3.8,0 a1.9,1.3 0 1 0 -3.8,0 M107.0,500.4 a1.9,1.3 0 1 0 3.8,0 a1.9,1.3 0 1 0 -3.8,0 M112.6,496.9 a1.9,1.3 0 1 0 3.8,0 a1.9,1.3 0 1 0 -3.8,0 M118.2,493.5 a1.9,1.3 0 1 0 3.8,0 a1.9,1.3 0 1 0 -3.8,0 M123.8,490.0 a1.9,1.3 0 1 0 3.8,0 a1.9,1.3 0 1 0 -3.8,0 M62.4,534.9 a1.9,1.3 0 1 0 3.8,0 a1.9,1.3 0 1 0 -3.8,0 M68.0,531.5 a1.9,1.3 0 1 0 3.8,0 a1.9,1.3 0 1 0 -3.8,0 M73.6,528.0 a1.9,1.3 0 1 0 3.8,0 a1.9,1.3 0 1 0 -3.8,0 M79.2,524.5 a1.9,1.3 0 1 0 3.8,0 a1.9,1.3 0 1 0 -3.8,0 M84.8,521.0 a1.9,1.3 0 1 0 3.8,0 a1.9,1.3 0 1 0 -3.8,0 M90.3,517.6 a1.9,1.3 0 1 0 3.8,0 a1.9,1.3 0 1 0 -3.8,0 M95.9,514.1 a1.9,1.3 0 1 0 3.8,0 a1.9,1.3 0 1 0 -3.8,0 M101.5,510.6 a1.9,1.3 0 1 0 3.8,0 a1.9,1.3 0 1 0 -3.8,0 M107.1,507.2 a1.9,1.3 0 1 0 3.8,0 a1.9,1.3 0 1 0 -3.8,0 M112.7,503.7 a1.9,1.3 0 1 0 3.8,0 a1.9,1.3 0 1 0 -3.8,0 M118.3,500.2 a1.9,1.3 0 1 0 3.8,0 a1.9,1.3 0 1 0 -3.8,0 M123.9,496.8 a1.9,1.3 0 1 0 3.8,0 a1.9,1.3 0 1 0 -3.8,0 M129.5,493.3 a1.9,1.3 0 1 0 3.8,0 a1.9,1.3 0 1 0 -3.8,0 M68.1,538.2 a1.9,1.3 0 1 0 3.8,0 a1.9,1.3 0 1 0 -3.8,0 M73.7,534.8 a1.9,1.3 0 1 0 3.8,0 a1.9,1.3 0 1 0 -3.8,0 M79.2,531.3 a1.9,1.3 0 1 0 3.8,0 a1.9,1.3 0 1 0 -3.8,0 M84.8,527.8 a1.9,1.3 0 1 0 3.8,0 a1.9,1.3 0 1 0 -3.8,0 M90.4,524.4 a1.9,1.3 0 1 0 3.8,0 a1.9,1.3 0 1 0 -3.8,0 M96.0,520.9 a1.9,1.3 0 1 0 3.8,0 a1.9,1.3 0 1 0 -3.8,0 M101.6,517.4 a1.9,1.3 0 1 0 3.8,0 a1.9,1.3 0 1 0 -3.8,0 M107.2,514.0 a1.9,1.3 0 1 0 3.8,0 a1.9,1.3 0 1 0 -3.8,0 M112.8,510.5 a1.9,1.3 0 1 0 3.8,0 a1.9,1.3 0 1 0 -3.8,0 M118.4,507.0 a1.9,1.3 0 1 0 3.8,0 a1.9,1.3 0 1 0 -3.8,0 M124.0,503.5 a1.9,1.3 0 1 0 3.8,0 a1.9,1.3 0 1 0 -3.8,0 M129.5,500.1 a1.9,1.3 0 1 0 3.8,0 a1.9,1.3 0 1 0 -3.8,0 M135.1,496.6 a1.9,1.3 0 1 0 3.8,0 a1.9,1.3 0 1 0 -3.8,0 M73.7,541.5 a1.9,1.3 0 1 0 3.8,0 a1.9,1.3 0 1 0 -3.8,0 M79.3,538.1 a1.9,1.3 0 1 0 3.8,0 a1.9,1.3 0 1 0 -3.8,0 M84.9,534.6 a1.9,1.3 0 1 0 3.8,0 a1.9,1.3 0 1 0 -3.8,0 M90.5,531.1 a1.9,1.3 0 1 0 3.8,0 a1.9,1.3 0 1 0 -3.8,0 M96.1,527.7 a1.9,1.3 0 1 0 3.8,0 a1.9,1.3 0 1 0 -3.8,0 M101.7,524.2 a1.9,1.3 0 1 0 3.8,0 a1.9,1.3 0 1 0 -3.8,0 M107.3,520.7 a1.9,1.3 0 1 0 3.8,0 a1.9,1.3 0 1 0 -3.8,0 M112.9,517.3 a1.9,1.3 0 1 0 3.8,0 a1.9,1.3 0 1 0 -3.8,0 M118.4,513.8 a1.9,1.3 0 1 0 3.8,0 a1.9,1.3 0 1 0 -3.8,0 M124.0,510.3 a1.9,1.3 0 1 0 3.8,0 a1.9,1.3 0 1 0 -3.8,0 M129.6,506.8 a1.9,1.3 0 1 0 3.8,0 a1.9,1.3 0 1 0 -3.8,0 M135.2,503.4 a1.9,1.3 0 1 0 3.8,0 a1.9,1.3 0 1 0 -3.8,0 M140.8,499.9 a1.9,1.3 0 1 0 3.8,0 a1.9,1.3 0 1 0 -3.8,0 M79.4,544.9 a1.9,1.3 0 1 0 3.8,0 a1.9,1.3 0 1 0 -3.8,0 M85.0,541.4 a1.9,1.3 0 1 0 3.8,0 a1.9,1.3 0 1 0 -3.8,0 M90.6,537.9 a1.9,1.3 0 1 0 3.8,0 a1.9,1.3 0 1 0 -3.8,0 M96.2,534.5 a1.9,1.3 0 1 0 3.8,0 a1.9,1.3 0 1 0 -3.8,0 M101.8,531.0 a1.9,1.3 0 1 0 3.8,0 a1.9,1.3 0 1 0 -3.8,0 M107.3,527.5 a1.9,1.3 0 1 0 3.8,0 a1.9,1.3 0 1 0 -3.8,0 M112.9,524.0 a1.9,1.3 0 1 0 3.8,0 a1.9,1.3 0 1 0 -3.8,0 M118.5,520.6 a1.9,1.3 0 1 0 3.8,0 a1.9,1.3 0 1 0 -3.8,0 M124.1,517.1 a1.9,1.3 0 1 0 3.8,0 a1.9,1.3 0 1 0 -3.8,0 M129.7,513.6 a1.9,1.3 0 1 0 3.8,0 a1.9,1.3 0 1 0 -3.8,0 M135.3,510.2 a1.9,1.3 0 1 0 3.8,0 a1.9,1.3 0 1 0 -3.8,0 M140.9,506.7 a1.9,1.3 0 1 0 3.8,0 a1.9,1.3 0 1 0 -3.8,0 M146.5,503.2 a1.9,1.3 0 1 0 3.8,0 a1.9,1.3 0 1 0 -3.8,0 M85.1,548.2 a1.9,1.3 0 1 0 3.8,0 a1.9,1.3 0 1 0 -3.8,0 M90.7,544.7 a1.9,1.3 0 1 0 3.8,0 a1.9,1.3 0 1 0 -3.8,0 M96.2,541.2 a1.9,1.3 0 1 0 3.8,0 a1.9,1.3 0 1 0 -3.8,0 M101.8,537.8 a1.9,1.3 0 1 0 3.8,0 a1.9,1.3 0 1 0 -3.8,0 M107.4,534.3 a1.9,1.3 0 1 0 3.8,0 a1.9,1.3 0 1 0 -3.8,0 M113.0,530.8 a1.9,1.3 0 1 0 3.8,0 a1.9,1.3 0 1 0 -3.8,0 M118.6,527.4 a1.9,1.3 0 1 0 3.8,0 a1.9,1.3 0 1 0 -3.8,0 M124.2,523.9 a1.9,1.3 0 1 0 3.8,0 a1.9,1.3 0 1 0 -3.8,0 M129.8,520.4 a1.9,1.3 0 1 0 3.8,0 a1.9,1.3 0 1 0 -3.8,0 M135.4,516.9 a1.9,1.3 0 1 0 3.8,0 a1.9,1.3 0 1 0 -3.8,0 M141.0,513.5 a1.9,1.3 0 1 0 3.8,0 a1.9,1.3 0 1 0 -3.8,0 M146.6,510.0 a1.9,1.3 0 1 0 3.8,0 a1.9,1.3 0 1 0 -3.8,0 M152.2,506.5 a1.9,1.3 0 1 0 3.8,0 a1.9,1.3 0 1 0 -3.8,0 M90.7,551.5 a1.9,1.3 0 1 0 3.8,0 a1.9,1.3 0 1 0 -3.8,0 M96.3,548.0 a1.9,1.3 0 1 0 3.8,0 a1.9,1.3 0 1 0 -3.8,0 M101.9,544.5 a1.9,1.3 0 1 0 3.8,0 a1.9,1.3 0 1 0 -3.8,0 M107.5,541.1 a1.9,1.3 0 1 0 3.8,0 a1.9,1.3 0 1 0 -3.8,0 M113.1,537.6 a1.9,1.3 0 1 0 3.8,0 a1.9,1.3 0 1 0 -3.8,0 M118.7,534.1 a1.9,1.3 0 1 0 3.8,0 a1.9,1.3 0 1 0 -3.8,0 M124.3,530.7 a1.9,1.3 0 1 0 3.8,0 a1.9,1.3 0 1 0 -3.8,0 M129.9,527.2 a1.9,1.3 0 1 0 3.8,0 a1.9,1.3 0 1 0 -3.8,0 M135.5,523.7 a1.9,1.3 0 1 0 3.8,0 a1.9,1.3 0 1 0 -3.8,0 M141.0,520.2 a1.9,1.3 0 1 0 3.8,0 a1.9,1.3 0 1 0 -3.8,0 M146.6,516.8 a1.9,1.3 0 1 0 3.8,0 a1.9,1.3 0 1 0 -3.8,0 M152.2,513.3 a1.9,1.3 0 1 0 3.8,0 a1.9,1.3 0 1 0 -3.8,0 M157.8,509.8 a1.9,1.3 0 1 0 3.8,0 a1.9,1.3 0 1 0 -3.8,0 M96.4,554.8 a1.9,1.3 0 1 0 3.8,0 a1.9,1.3 0 1 0 -3.8,0 M102.0,551.3 a1.9,1.3 0 1 0 3.8,0 a1.9,1.3 0 1 0 -3.8,0 M107.6,547.9 a1.9,1.3 0 1 0 3.8,0 a1.9,1.3 0 1 0 -3.8,0 M113.2,544.4 a1.9,1.3 0 1 0 3.8,0 a1.9,1.3 0 1 0 -3.8,0 M118.8,540.9 a1.9,1.3 0 1 0 3.8,0 a1.9,1.3 0 1 0 -3.8,0 M124.4,537.4 a1.9,1.3 0 1 0 3.8,0 a1.9,1.3 0 1 0 -3.8,0 M129.9,534.0 a1.9,1.3 0 1 0 3.8,0 a1.9,1.3 0 1 0 -3.8,0 M135.5,530.5 a1.9,1.3 0 1 0 3.8,0 a1.9,1.3 0 1 0 -3.8,0 M141.1,527.0 a1.9,1.3 0 1 0 3.8,0 a1.9,1.3 0 1 0 -3.8,0 M146.7,523.6 a1.9,1.3 0 1 0 3.8,0 a1.9,1.3 0 1 0 -3.8,0 M152.3,520.1 a1.9,1.3 0 1 0 3.8,0 a1.9,1.3 0 1 0 -3.8,0 M157.9,516.6 a1.9,1.3 0 1 0 3.8,0 a1.9,1.3 0 1 0 -3.8,0 M163.5,513.1 a1.9,1.3 0 1 0 3.8,0 a1.9,1.3 0 1 0 -3.8,0 M102.1,558.1 a1.9,1.3 0 1 0 3.8,0 a1.9,1.3 0 1 0 -3.8,0 M107.7,554.6 a1.9,1.3 0 1 0 3.8,0 a1.9,1.3 0 1 0 -3.8,0 M113.3,551.2 a1.9,1.3 0 1 0 3.8,0 a1.9,1.3 0 1 0 -3.8,0 M118.8,547.7 a1.9,1.3 0 1 0 3.8,0 a1.9,1.3 0 1 0 -3.8,0 M124.4,544.2 a1.9,1.3 0 1 0 3.8,0 a1.9,1.3 0 1 0 -3.8,0 M130.0,540.8 a1.9,1.3 0 1 0 3.8,0 a1.9,1.3 0 1 0 -3.8,0 M135.6,537.3 a1.9,1.3 0 1 0 3.8,0 a1.9,1.3 0 1 0 -3.8,0 M141.2,533.8 a1.9,1.3 0 1 0 3.8,0 a1.9,1.3 0 1 0 -3.8,0 M146.8,530.3 a1.9,1.3 0 1 0 3.8,0 a1.9,1.3 0 1 0 -3.8,0 M152.4,526.9 a1.9,1.3 0 1 0 3.8,0 a1.9,1.3 0 1 0 -3.8,0 M158.0,523.4 a1.9,1.3 0 1 0 3.8,0 a1.9,1.3 0 1 0 -3.8,0 M163.6,519.9 a1.9,1.3 0 1 0 3.8,0 a1.9,1.3 0 1 0 -3.8,0 M169.2,516.5 a1.9,1.3 0 1 0 3.8,0 a1.9,1.3 0 1 0 -3.8,0 M107.8,561.4 a1.9,1.3 0 1 0 3.8,0 a1.9,1.3 0 1 0 -3.8,0 M113.3,557.9 a1.9,1.3 0 1 0 3.8,0 a1.9,1.3 0 1 0 -3.8,0 M118.9,554.5 a1.9,1.3 0 1 0 3.8,0 a1.9,1.3 0 1 0 -3.8,0 M124.5,551.0 a1.9,1.3 0 1 0 3.8,0 a1.9,1.3 0 1 0 -3.8,0 M130.1,547.5 a1.9,1.3 0 1 0 3.8,0 a1.9,1.3 0 1 0 -3.8,0 M135.7,544.1 a1.9,1.3 0 1 0 3.8,0 a1.9,1.3 0 1 0 -3.8,0 M141.3,540.6 a1.9,1.3 0 1 0 3.8,0 a1.9,1.3 0 1 0 -3.8,0 M146.9,537.1 a1.9,1.3 0 1 0 3.8,0 a1.9,1.3 0 1 0 -3.8,0 M152.5,533.6 a1.9,1.3 0 1 0 3.8,0 a1.9,1.3 0 1 0 -3.8,0 M158.1,530.2 a1.9,1.3 0 1 0 3.8,0 a1.9,1.3 0 1 0 -3.8,0 M163.7,526.7 a1.9,1.3 0 1 0 3.8,0 a1.9,1.3 0 1 0 -3.8,0 M169.2,523.2 a1.9,1.3 0 1 0 3.8,0 a1.9,1.3 0 1 0 -3.8,0 M174.8,519.8 a1.9,1.3 0 1 0 3.8,0 a1.9,1.3 0 1 0 -3.8,0 M113.4,564.7 a1.9,1.3 0 1 0 3.8,0 a1.9,1.3 0 1 0 -3.8,0 M119.0,561.2 a1.9,1.3 0 1 0 3.8,0 a1.9,1.3 0 1 0 -3.8,0 M124.6,557.8 a1.9,1.3 0 1 0 3.8,0 a1.9,1.3 0 1 0 -3.8,0 M130.2,554.3 a1.9,1.3 0 1 0 3.8,0 a1.9,1.3 0 1 0 -3.8,0 M135.8,550.8 a1.9,1.3 0 1 0 3.8,0 a1.9,1.3 0 1 0 -3.8,0 M141.4,547.4 a1.9,1.3 0 1 0 3.8,0 a1.9,1.3 0 1 0 -3.8,0 M147.0,543.9 a1.9,1.3 0 1 0 3.8,0 a1.9,1.3 0 1 0 -3.8,0 M152.5,540.4 a1.9,1.3 0 1 0 3.8,0 a1.9,1.3 0 1 0 -3.8,0 M158.1,537.0 a1.9,1.3 0 1 0 3.8,0 a1.9,1.3 0 1 0 -3.8,0 M163.7,533.5 a1.9,1.3 0 1 0 3.8,0 a1.9,1.3 0 1 0 -3.8,0 M169.3,530.0 a1.9,1.3 0 1 0 3.8,0 a1.9,1.3 0 1 0 -3.8,0 M174.9,526.6 a1.9,1.3 0 1 0 3.8,0 a1.9,1.3 0 1 0 -3.8,0 M180.5,523.1 a1.9,1.3 0 1 0 3.8,0 a1.9,1.3 0 1 0 -3.8,0 M119.1,568.0 a1.9,1.3 0 1 0 3.8,0 a1.9,1.3 0 1 0 -3.8,0 M124.7,564.6 a1.9,1.3 0 1 0 3.8,0 a1.9,1.3 0 1 0 -3.8,0 M130.3,561.1 a1.9,1.3 0 1 0 3.8,0 a1.9,1.3 0 1 0 -3.8,0 M135.9,557.6 a1.9,1.3 0 1 0 3.8,0 a1.9,1.3 0 1 0 -3.8,0 M141.4,554.1 a1.9,1.3 0 1 0 3.8,0 a1.9,1.3 0 1 0 -3.8,0 M147.0,550.7 a1.9,1.3 0 1 0 3.8,0 a1.9,1.3 0 1 0 -3.8,0 M152.6,547.2 a1.9,1.3 0 1 0 3.8,0 a1.9,1.3 0 1 0 -3.8,0 M158.2,543.7 a1.9,1.3 0 1 0 3.8,0 a1.9,1.3 0 1 0 -3.8,0 M163.8,540.3 a1.9,1.3 0 1 0 3.8,0 a1.9,1.3 0 1 0 -3.8,0 M169.4,536.8 a1.9,1.3 0 1 0 3.8,0 a1.9,1.3 0 1 0 -3.8,0 M175.0,533.3 a1.9,1.3 0 1 0 3.8,0 a1.9,1.3 0 1 0 -3.8,0 M180.6,529.9 a1.9,1.3 0 1 0 3.8,0 a1.9,1.3 0 1 0 -3.8,0 M186.2,526.4 a1.9,1.3 0 1 0 3.8,0 a1.9,1.3 0 1 0 -3.8,0 M124.8,571.3 a1.9,1.3 0 1 0 3.8,0 a1.9,1.3 0 1 0 -3.8,0 M135.9,564.4 a1.9,1.3 0 1 0 3.8,0 a1.9,1.3 0 1 0 -3.8,0 M141.5,560.9 a1.9,1.3 0 1 0 3.8,0 a1.9,1.3 0 1 0 -3.8,0 M147.1,557.5 a1.9,1.3 0 1 0 3.8,0 a1.9,1.3 0 1 0 -3.8,0 M152.7,554.0 a1.9,1.3 0 1 0 3.8,0 a1.9,1.3 0 1 0 -3.8,0 M158.3,550.5 a1.9,1.3 0 1 0 3.8,0 a1.9,1.3 0 1 0 -3.8,0 M163.9,547.1 a1.9,1.3 0 1 0 3.8,0 a1.9,1.3 0 1 0 -3.8,0 M169.5,543.6 a1.9,1.3 0 1 0 3.8,0 a1.9,1.3 0 1 0 -3.8,0 M175.1,540.1 a1.9,1.3 0 1 0 3.8,0 a1.9,1.3 0 1 0 -3.8,0 M180.7,536.6 a1.9,1.3 0 1 0 3.8,0 a1.9,1.3 0 1 0 -3.8,0 M186.2,533.2 a1.9,1.3 0 1 0 3.8,0 a1.9,1.3 0 1 0 -3.8,0 M191.8,529.7 a1.9,1.3 0 1 0 3.8,0 a1.9,1.3 0 1 0 -3.8,0 M130.4,574.6 a1.9,1.3 0 1 0 3.8,0 a1.9,1.3 0 1 0 -3.8,0 M136.0,571.2 a1.9,1.3 0 1 0 3.8,0 a1.9,1.3 0 1 0 -3.8,0 M141.6,567.7 a1.9,1.3 0 1 0 3.8,0 a1.9,1.3 0 1 0 -3.8,0 M147.2,564.2 a1.9,1.3 0 1 0 3.8,0 a1.9,1.3 0 1 0 -3.8,0 M152.8,560.8 a1.9,1.3 0 1 0 3.8,0 a1.9,1.3 0 1 0 -3.8,0 M158.4,557.3 a1.9,1.3 0 1 0 3.8,0 a1.9,1.3 0 1 0 -3.8,0 M164.0,553.8 a1.9,1.3 0 1 0 3.8,0 a1.9,1.3 0 1 0 -3.8,0 M169.6,550.4 a1.9,1.3 0 1 0 3.8,0 a1.9,1.3 0 1 0 -3.8,0 M175.2,546.9 a1.9,1.3 0 1 0 3.8,0 a1.9,1.3 0 1 0 -3.8,0 M180.7,543.4 a1.9,1.3 0 1 0 3.8,0 a1.9,1.3 0 1 0 -3.8,0 M186.3,540.0 a1.9,1.3 0 1 0 3.8,0 a1.9,1.3 0 1 0 -3.8,0 M191.9,536.5 a1.9,1.3 0 1 0 3.8,0 a1.9,1.3 0 1 0 -3.8,0 M197.5,533.0 a1.9,1.3 0 1 0 3.8,0 a1.9,1.3 0 1 0 -3.8,0 M136.1,578.0 a1.9,1.3 0 1 0 3.8,0 a1.9,1.3 0 1 0 -3.8,0 M141.7,574.5 a1.9,1.3 0 1 0 3.8,0 a1.9,1.3 0 1 0 -3.8,0 M147.3,571.0 a1.9,1.3 0 1 0 3.8,0 a1.9,1.3 0 1 0 -3.8,0 M152.9,567.6 a1.9,1.3 0 1 0 3.8,0 a1.9,1.3 0 1 0 -3.8,0 M158.5,564.1 a1.9,1.3 0 1 0 3.8,0 a1.9,1.3 0 1 0 -3.8,0 M164.0,560.6 a1.9,1.3 0 1 0 3.8,0 a1.9,1.3 0 1 0 -3.8,0 M169.6,557.1 a1.9,1.3 0 1 0 3.8,0 a1.9,1.3 0 1 0 -3.8,0 M175.2,553.7 a1.9,1.3 0 1 0 3.8,0 a1.9,1.3 0 1 0 -3.8,0 M180.8,550.2 a1.9,1.3 0 1 0 3.8,0 a1.9,1.3 0 1 0 -3.8,0 M186.4,546.7 a1.9,1.3 0 1 0 3.8,0 a1.9,1.3 0 1 0 -3.8,0 M192.0,543.3 a1.9,1.3 0 1 0 3.8,0 a1.9,1.3 0 1 0 -3.8,0 M197.6,539.8 a1.9,1.3 0 1 0 3.8,0 a1.9,1.3 0 1 0 -3.8,0 M203.2,536.3 a1.9,1.3 0 1 0 3.8,0 a1.9,1.3 0 1 0 -3.8,0" fill="none" stroke="#000" stroke-width="1.44"/>
<ellipse cx="24.6" cy="511.8" rx="4.3" ry="2.6" fill="none" stroke="#000" stroke-width="1.44" transform="rotate(0 24.6 511.8)"/>
<ellipse cx="132.2" cy="567.9" rx="4.3" ry="2.6" fill="none" stroke="#000" stroke-width="1.44" transform="rotate(0 132.2 567.9)"/>
<path d="M189.6,518.6 L346.7,427.5 L346.7,460 L189.6,550.7 Z" fill="#fff" stroke="#000" stroke-width="1.92" stroke-linejoin="round"/>
<line x1="189.6" y1="518.6" x2="189.6" y2="550.7" stroke="#000" stroke-width="2.64"/>
<path d="M230.0,496.7 L270.8,476.7 L270.8,506.7 L230.0,528.3 Z" fill="none" stroke="#000" stroke-width="1.56" />
<path d="M236.5,495.0 L264.0,482.0 L264.0,491.8 L238.3,504.8 Z" fill="none" stroke="#000" stroke-width="1.56" />
<text x="0" y="0" font-size="6.5" class="logo2" textLength="15" lengthAdjust="spacingAndGlyphs" transform="matrix(0.9,-0.45,0,1,243,499.5)">100C</text>
<circle cx="237.5" cy="518.3" r="2.2" fill="none" stroke="#000" stroke-width="1.56"/>
<circle cx="263.3" cy="504.2" r="2.2" fill="none" stroke="#000" stroke-width="1.56"/>
<path d="M214.2,515 L222,511 L224.2,513 L224.2,529 L216.5,533 L214.2,531 Z" fill="#fff" stroke="#000" stroke-width="2.64" />
<path d="M217.5,516 L222,514 L222,526 L217.5,528.5 Z" fill="#fff" stroke="#000" stroke-width="1.56" />
<path d="M220,476.7 L374.2,390.8 L346.7,427.5 L189.6,518.6 Z" fill="#fff" stroke="#000" stroke-width="1.92" stroke-linejoin="round"/>
<path d="M222.0,481.5 L268.3,454.2 L241.7,485.0 L202.5,507.0 Z" fill="none" stroke="#000" stroke-width="1.56" stroke-linejoin="round"/>
<path d="M275.8,449.2 L305.0,434.2 L305.0,447.5 L245.8,481.7 Z" fill="none" stroke="#000" stroke-width="1.56" stroke-linejoin="round"/>
<path d="M313.3,428.3 L362.0,401.5 L345.0,425.0 L313.3,443.3 Z" fill="none" stroke="#000" stroke-width="1.56" stroke-linejoin="round"/>
<path d="M219.2,455.8 L375.8,367.5 L375,390.8 L220,476.7 Z" fill="#fff" stroke="#000" stroke-width="1.92" stroke-linejoin="round"/>
<line x1="219.2" y1="455.8" x2="220.0" y2="476.7" stroke="#000" stroke-width="2.64"/>
<path d="M201.3,409.7 L358.5,322.6 L359.3,332 L375.8,367.5 L219.2,455.8 L203.3,417.3 Z" fill="#fff" stroke="#000" stroke-width="1.92" stroke-linejoin="round"/>
<line x1="203.3" y1="417.3" x2="359.3" y2="332.0" stroke="#000" stroke-width="1.80"/>
<line x1="201.3" y1="409.7" x2="201.3" y2="418.0" stroke="#000" stroke-width="2.40"/>
<path d="M214.2,418.3 L253.3,397.5 L272.5,419.2 L225.8,445.0 Z" fill="none" stroke="#000" stroke-width="1.68" stroke-linejoin="round"/>
<path d="M260.8,391.7 L305.0,366.7 L309.2,396.7 L280.8,412.5 Z" fill="none" stroke="#000" stroke-width="1.68" stroke-linejoin="round"/>
<path d="M315.0,359.2 L352.5,339.2 L364.2,366.7 L317.5,392.5 Z" fill="none" stroke="#000" stroke-width="1.68" stroke-linejoin="round"/>
<circle cx="196.7" cy="411.7" r="1.3" fill="#000"/>
<circle cx="209.2" cy="410.0" r="1.3" fill="#000"/>
<circle cx="210.8" cy="418.3" r="1.3" fill="#000"/>
<circle cx="224.2" cy="448.3" r="1.3" fill="#000"/>
<circle cx="255.8" cy="391.7" r="1.3" fill="#000"/>
<circle cx="279.2" cy="417.5" r="1.3" fill="#000"/>
<circle cx="308.3" cy="361.7" r="1.3" fill="#000"/>
<circle cx="312.5" cy="397.5" r="1.3" fill="#000"/>
<circle cx="353.3" cy="326.7" r="1.3" fill="#000"/>
<circle cx="354.2" cy="335.8" r="1.3" fill="#000"/>
<circle cx="367.5" cy="366.7" r="1.3" fill="#000"/>
<circle cx="222.5" cy="480.0" r="1.3" fill="#000"/>
<circle cx="270.0" cy="452.0" r="1.3" fill="#000"/>
<circle cx="305.0" cy="451.0" r="1.3" fill="#000"/>
<circle cx="315.5" cy="424.5" r="1.3" fill="#000"/>
<circle cx="360.0" cy="400.0" r="1.3" fill="#000"/>
<circle cx="201.0" cy="506.0" r="1.3" fill="#000"/>
<circle cx="186.0" cy="512.0" r="1.3" fill="#000"/>
<path d="M35.8,315.8 L35.8,321.7 L20.0,338.3 L18.3,355.0 L20.0,358.0 L46.7,433.3 L46.7,470.8 L189.6,550.7 L189.6,518.6 L219.2,476.7 L219.2,455.8 L203.0,417.5 L201.3,409.7 Z" fill="#fff" stroke="#000" stroke-width="2.16" stroke-linejoin="round" />
<circle cx="196.7" cy="413.0" r="1.6" fill="#000"/>
<line x1="35.8" y1="315.8" x2="201.3" y2="409.7" stroke="#000" stroke-width="2.40"/>
<line x1="36.7" y1="320.5" x2="201.3" y2="411.5" stroke="#000" stroke-width="1.32"/>
<line x1="51.7" y1="339.2" x2="180.0" y2="414.2" stroke="#000" stroke-width="1.44"/>
<line x1="50.8" y1="341.7" x2="180.0" y2="416.7" stroke="#000" stroke-width="1.44"/>
<path d="M40.8,332.5 L45.0,330.8 L51.7,338.3" fill="none" stroke="#000" stroke-width="1.44" />
<path d="M40.8,332.5 L30.0,345.0" fill="none" stroke="#000" stroke-width="1.44" />
<path d="M180.0,414.2 L185.0,413.3 L206.7,458.3 L210.0,472.5" fill="none" stroke="#000" stroke-width="1.56" stroke-linejoin="round"/>
<path d="M180.0,416.7 L203.0,460.0 L206.7,472.5" fill="none" stroke="#000" stroke-width="1.32" />
<path d="M30,345.8 C42,356 50,366 62,373 C72,378 80,384 88,392 C95,402 98,410 106,419 C114,427 122,431 130,430 C137,429 140,425 146,425 C155,426 162,433 172,438 C182,443 190,444 197,443" fill="none" stroke="#000" stroke-width="2.88" />
<path d="M22.0,357.0 L58.8,411.2 L91.2,432.5 L101.0,450.0" fill="none" stroke="#000" stroke-width="1.44" stroke-linejoin="round"/>
<path d="M118.0,472.0 L124.2,468.3 L136.7,457.5 L168.3,475.8 L206.7,472.5" fill="none" stroke="#000" stroke-width="1.44" stroke-linejoin="round"/>
<text x="0" y="0" font-size="13.2" class="logo2" textLength="46" lengthAdjust="spacingAndGlyphs" stroke="#000" stroke-width="1.08" transform="matrix(0.747,0.428,0,1,54.2,364)">REMTA</text>
<ellipse cx="112.9" cy="398.5" rx="12.4" ry="15.6" fill="none" stroke="#000" stroke-width="2.88" transform="rotate(-22 112.9 398.5)"/>
<circle cx="39.2" cy="320.8" r="1.6" fill="none" stroke="#000" stroke-width="1.32"/>
<circle cx="42.5" cy="349.2" r="1.6" fill="none" stroke="#000" stroke-width="1.32"/>
<circle cx="118.3" cy="366.7" r="1.6" fill="none" stroke="#000" stroke-width="1.32"/>
<circle cx="60.0" cy="403.3" r="1.6" fill="none" stroke="#000" stroke-width="1.32"/>
<circle cx="168.3" cy="466.7" r="1.6" fill="none" stroke="#000" stroke-width="1.32"/>
<circle cx="185.8" cy="431.7" r="1.6" fill="none" stroke="#000" stroke-width="1.32"/>
<circle cx="34.2" cy="399.2" r="1.5" fill="#000"/>
<circle cx="48.3" cy="463.3" r="1.5" fill="#000"/>
<circle cx="200.8" cy="495.0" r="1.5" fill="#000"/>
<circle cx="215.0" cy="465.8" r="1.5" fill="#000"/>
<path d="M113.3,452.0 L113.3,464.2 L123.3,469.6 L131.7,463.0 L129.0,456.0 Z" fill="#fff" stroke="#000" stroke-width="1.68" />
<path d="M113.5,443.8 L118.3,444.2 Q121.0,446.0 122.0,448.3 Q125.0,451.0 129.2,451.7 L131.0,459.0 Q128.0,458.5 126.7,458.3 Q123.0,453.5 120.0,452.5 L115.0,451.3 Z" fill="#fff" stroke="#000" stroke-width="1.68" />
<ellipse cx="132.7" cy="456.7" rx="3.4" ry="4.3" fill="#fff" stroke="#000" stroke-width="1.92" transform="rotate(-25 132.7 456.7)"/>
<ellipse cx="133.6" cy="456.9" rx="1.6" ry="2.4" fill="#fff" stroke="#000" stroke-width="1.20" transform="rotate(-25 133.6 456.9)"/>
<path d="M114.5,452.0 Q119.0,452.0 118.5,456.0 Q117.5,459.0 114.5,459.0" fill="#fff" stroke="#000" stroke-width="1.56" />
<path d="M101.9,442.5 L101.9,460.0 L103.3,467.0 Q103.5,471.8 107.6,471.8 Q112.0,471.8 112.0,467.0 L113.5,460.0 L113.5,442.5 Z" fill="#fff" stroke="#000" stroke-width="1.92" />
<line x1="101.9" y1="450.8" x2="113.5" y2="450.8" stroke="#000" stroke-width="2.64"/>
<line x1="101.9" y1="460.0" x2="113.5" y2="460.0" stroke="#000" stroke-width="2.16"/>
<line x1="103.3" y1="467.0" x2="112.0" y2="467.0" stroke="#000" stroke-width="1.92"/>
<path d="M103.5,444.0 L108.0,446.0 L106.0,448.0 L110.0,449.0 L112.0,444.0 Z" fill="#fff" stroke="#000" stroke-width="0.00" />
<ellipse cx="107.9" cy="439.6" rx="5.8" ry="3.8" fill="#000" stroke="#000" stroke-width="0.96" transform="rotate(0 107.9 439.6)"/>
<ellipse cx="107.9" cy="438.6" rx="2.1" ry="1.0" fill="#fff" stroke="#000" stroke-width="0.00" transform="rotate(0 107.9 438.6)"/>
</g>
<g transform="translate(0,440)">
<path d="M35.8,315.8 L175.7,233.4 L358.5,322.6 L201.3,409.7 Z" fill="#fff" stroke="#000" stroke-width="0.00" />
<path d="M138.75,243 L138.75,221 L191.8,189.3 L252.5,223.2 L260,232 L288.5,248 L299,250.3 L358.5,283.6 L358.5,322.6 L175.7,233.4 Z" fill="#fff" stroke="#000" stroke-width="0.00" />
<path d="M138.2,242.5 L138.2,221.0 L141.0,218.0 L152.2,210.3 L162.7,208.6 L168.0,204.0 L179.0,195.2 L191.8,187.6 L252.5,221.4 L258.3,229.0 L262.8,234.0" fill="none" stroke="#000" stroke-width="2.04" stroke-linejoin="round"/>
<line x1="191.8" y1="187.6" x2="191.8" y2="192.8" stroke="#000" stroke-width="1.80"/>
<path d="M161.5,238.5 L161.5,212.0" fill="none" stroke="#000" stroke-width="1.68" />
<path d="M138.2,242.5 L161.5,238.5" fill="none" stroke="#000" stroke-width="1.80" />
<path d="M168.5,224.0 L168.5,210.5 L171.5,207.0 L179.0,200.0 L191.8,192.8 L251.3,224.9 L257.0,231.0 L258.3,246.5 L262.0,249.0" fill="none" stroke="#000" stroke-width="1.80" stroke-linejoin="round"/>
<path d="M168.5,224.0 L176.7,220.5 L191.8,213.3 L257.2,247.7" fill="none" stroke="#000" stroke-width="1.80" stroke-linejoin="round"/>
<path d="M143.5,223 Q141.7,223.5 141.7,225.5 L141.7,233 Q141.7,235 143.7,234.3 L158.5,229.5 Q160.3,229 160.3,227 L160.3,217 Q160.3,215 158.5,215.6 Z" fill="none" stroke="#000" stroke-width="1.68" />
<path d="M168.5,233.0 L191.8,218.5 L264.0,258.0" fill="none" stroke="#000" stroke-width="1.56" stroke-linejoin="round"/>
<path d="M169.7,235.5 L191.8,222.6 L270.0,264.0" fill="none" stroke="#000" stroke-width="1.56" stroke-linejoin="round"/>
<line x1="191.8" y1="213.3" x2="191.8" y2="222.6" stroke="#000" stroke-width="1.44"/>
<path d="M162.7,239.5 L168.0,237.2 L172.0,239.5 L167.0,241.8 Z" fill="none" stroke="#000" stroke-width="1.44" />
<path d="M252.5,223.2 L262.8,234.0 L288.5,248.0 L299.0,250.3 L358.5,283.6 L359.6,287.6 L343.3,294.6 L337.0,300.0 L335.0,304.0" fill="none" stroke="#000" stroke-width="1.92" stroke-linejoin="round"/>
<path d="M259.5,247.7 L262.8,250.0 L285.0,262.0 L285.0,267.8" fill="none" stroke="#000" stroke-width="1.44" stroke-linejoin="round"/>
<path d="M285.0,267.8 L288.5,271.3 L296.6,278.3 L331.6,300.5" fill="none" stroke="#000" stroke-width="1.56" stroke-linejoin="round"/>
<path d="M292.6,256.2 L300.1,257.9 L352.6,284.7 L350.3,287.0 L304.8,278.3 L293.1,266.6 Z" fill="none" stroke="#000" stroke-width="1.68" stroke-linejoin="round"/>
<circle cx="271.0" cy="246.8" r="1.4" fill="#000"/>
<circle cx="280.3" cy="252.0" r="1.4" fill="#000"/>
<circle cx="275.7" cy="263.1" r="1.4" fill="#000"/>
<path d="M262.8,267.8 L268.0,266.0 L282.7,274.3 L277.5,278.3 Z" fill="none" stroke="#000" stroke-width="1.44" />
<circle cx="266.0" cy="268.5" r="1.0" fill="#000"/>
<circle cx="277.0" cy="275.0" r="1.0" fill="#000"/>
<path d="M35.8,315.8 L98.0,279.0" fill="none" stroke="#000" stroke-width="1.92" />
<path d="M358.5,322.6 L201.3,409.7" fill="none" stroke="#000" stroke-width="2.40" />
<path d="M58.3,315.0 L190.0,238.0 L340.0,313.4 L202.0,397.0 Z" fill="none" stroke="#000" stroke-width="1.92" stroke-linejoin="round"/>
<path d="M61.0,311.2 L195.0,393.0 L291.0,346.2 L170.0,274.0 Z" fill="none" stroke="#000" stroke-width="2.40" stroke-linejoin="round"/>
<line x1="192.0" y1="404.0" x2="202.0" y2="397.0" stroke="#000" stroke-width="1.20"/>
<line x1="260.5" y1="274.8" x2="359.3" y2="313.0" stroke="#000" stroke-width="2.40"/>
<line x1="260.5" y1="277.5" x2="342.0" y2="318.0" stroke="#000" stroke-width="1.20"/>
<path d="M304.7,318.5 Q304.7,316.7 306.5,316 L318,309.3 L328.7,306.7 L332.7,305.3 L338,300 L343.3,294.6 L336.3,304 L336.3,306 L348.7,312 L359.3,310 L359.3,316 L346,323.3 L336.7,324 L335.3,330 L328,330 L324,333.3 L318,339.3 L307,345.3 Q305.3,345.5 305.3,343.5 Z" fill="#fff" stroke="#000" stroke-width="1.92" stroke-linejoin="round"/>
<path d="M310.5,319.8 L325.5,313.5 Q327.3,312.8 327.3,314.5 L327.3,323.5 L311,337.5 Q309.3,338.6 309.3,336.5 L309.3,321.5 Q309.3,320.3 310.5,319.8 Z" fill="none" stroke="#000" stroke-width="1.68" />
<path d="M309.5,330 L327,319 L327,323.5 L311,337.3 L309.5,337 Z" fill="#000" stroke="#000" stroke-width="0.60" />
<path d="M336.3,308.0 L348.7,314.0 L342.7,319.3 L336.3,320.0 Z" fill="none" stroke="#000" stroke-width="1.56" stroke-linejoin="round"/>
<line x1="328.0" y1="307.0" x2="328.0" y2="330.0" stroke="#000" stroke-width="1.56"/>
<path d="M348.7,318.7 L359.3,314.0 L359.3,332.0 L348.7,337.0" fill="#fff" stroke="#000" stroke-width="1.68" stroke-linejoin="round" />
<circle cx="352.7" cy="328.0" r="1.4" fill="#000"/>
<path d="M234.2,371.9 L267.4,364.3 L268.0,373.3 L238.2,390.3 Z" fill="#fff" stroke="#000" stroke-width="1.68" stroke-linejoin="round" />
<path d="M229.5,370.0 L246.4,360.5 L267.4,364.3 L234.2,371.9 Z" fill="#fff" stroke="#000" stroke-width="1.68" stroke-linejoin="round" />
<path d="M229.5,370.0 L229.5,371.5 L234.2,373.5" fill="none" stroke="#000" stroke-width="1.44" />
<path d="M238.2,380.3 L266.8,365.2" fill="none" stroke="#000" stroke-width="1.20" />
<path d="M238.2,381.8 L266.8,366.7" fill="none" stroke="#000" stroke-width="1.20" />
<ellipse cx="246.4" cy="368.7" rx="2.6" ry="1.2" fill="none" stroke="#000" stroke-width="1.68" transform="rotate(25 246.4 368.7)"/>
<path d="M109.6,273.3 L93.6,273.8 L90.6,276.8 L72.1,301.8 L73.1,306.5 L79.6,307.5 L98.1,281.0 L109.6,280.0 Z" fill="#fff" stroke="#000" stroke-width="1.80" stroke-linejoin="round"/>
<line x1="94.6" y1="277.8" x2="76.1" y2="304.8" stroke="#000" stroke-width="1.56"/>
<line x1="93.6" y1="273.8" x2="94.6" y2="277.8" stroke="#000" stroke-width="1.44"/>
<line x1="94.6" y1="277.8" x2="109.6" y2="277.3" stroke="#000" stroke-width="1.20"/>
<ellipse cx="139.6" cy="307.3" rx="32.5" ry="18.5" fill="#fff" stroke="#000" stroke-width="1.80" transform="rotate(0 139.6 307.3)"/>
<path d="M108.1,307.3 A31.5,17.0 0 0 0 171.1,307.3" fill="none" stroke="#000" stroke-width="1.44" />
<path d="M109.1,271.8 L109.1,306.3 A30.5,15.5 0 0 0 170.1,306.3 L170.1,271.8 Z" fill="#fff" stroke="#000" stroke-width="1.80" />
<path d="M109.1,271.8 A30.5,13.3 0 0 0 170.1,271.8" fill="none" stroke="#000" stroke-width="1.68" />
<path d="M109.1,278.3 A30.5,13.3 0 0 0 170.1,278.3" fill="none" stroke="#000" stroke-width="1.68" />
<path d="M109.1,271.8 Q109.4,261.8 113.3,257.8 L165.9,257.8 Q169.8,261.8 170.1,271.8 A30.5,13.3 0 0 1 109.1,271.8 Z" fill="#fff" stroke="#000" stroke-width="1.80" />
<path d="M115.4,255.8 L115.4,251.8 A24.2,14.0 0 0 1 163.8,251.8 L163.8,255.8 A24.2,10.3 0 0 1 115.4,255.8 Z" fill="#fff" stroke="#000" stroke-width="1.80" />
<path d="M115.4,255.8 A24.2,10.3 0 0 0 163.8,255.8" fill="none" stroke="#000" stroke-width="1.68" />
<path d="M116.4,257.3 A23.2,10.3 0 0 0 162.8,257.3" fill="none" stroke="#000" stroke-width="1.32" />
<path d="M135.4,238.8 L135.4,245.8 A4.2,2.0 0 0 0 143.8,245.8 L143.8,238.8 Z" fill="#fff" stroke="#000" stroke-width="1.68" />
<ellipse cx="139.6" cy="238.8" rx="4.2" ry="2.0" fill="#fff" stroke="#000" stroke-width="1.68" transform="rotate(0 139.6 238.8)"/>
<path d="M135.4,242.8 A4.2,2.0 0 0 0 143.8,242.8" fill="none" stroke="#000" stroke-width="1.92" />
<path d="M181.0,314.2 L165.0,314.7 L162.0,317.7 L143.5,342.7 L144.5,347.4 L151.0,348.4 L169.5,321.9 L181.0,320.9 Z" fill="#fff" stroke="#000" stroke-width="1.80" stroke-linejoin="round"/>
<line x1="166.0" y1="318.7" x2="147.5" y2="345.7" stroke="#000" stroke-width="1.56"/>
<line x1="165.0" y1="314.7" x2="166.0" y2="318.7" stroke="#000" stroke-width="1.44"/>
<line x1="166.0" y1="318.7" x2="181.0" y2="318.2" stroke="#000" stroke-width="1.20"/>
<ellipse cx="211.0" cy="348.2" rx="32.5" ry="18.5" fill="#fff" stroke="#000" stroke-width="1.80" transform="rotate(0 211.0 348.2)"/>
<path d="M179.5,348.2 A31.5,17.0 0 0 0 242.5,348.2" fill="none" stroke="#000" stroke-width="1.44" />
<path d="M180.5,312.7 L180.5,347.2 A30.5,15.5 0 0 0 241.5,347.2 L241.5,312.7 Z" fill="#fff" stroke="#000" stroke-width="1.80" />
<path d="M180.5,312.7 A30.5,13.3 0 0 0 241.5,312.7" fill="none" stroke="#000" stroke-width="1.68" />
<path d="M180.5,319.2 A30.5,13.3 0 0 0 241.5,319.2" fill="none" stroke="#000" stroke-width="1.68" />
<path d="M180.5,312.7 Q180.8,302.7 184.7,298.7 L237.3,298.7 Q241.2,302.7 241.5,312.7 A30.5,13.3 0 0 1 180.5,312.7 Z" fill="#fff" stroke="#000" stroke-width="1.80" />
<path d="M186.8,296.7 L186.8,292.7 A24.2,14.0 0 0 1 235.2,292.7 L235.2,296.7 A24.2,10.3 0 0 1 186.8,296.7 Z" fill="#fff" stroke="#000" stroke-width="1.80" />
<path d="M186.8,296.7 A24.2,10.3 0 0 0 235.2,296.7" fill="none" stroke="#000" stroke-width="1.68" />
<path d="M187.8,298.2 A23.2,10.3 0 0 0 234.2,298.2" fill="none" stroke="#000" stroke-width="1.32" />
<path d="M206.8,279.7 L206.8,286.7 A4.2,2.0 0 0 0 215.2,286.7 L215.2,279.7 Z" fill="#fff" stroke="#000" stroke-width="1.68" />
<ellipse cx="211.0" cy="279.7" rx="4.2" ry="2.0" fill="#fff" stroke="#000" stroke-width="1.68" transform="rotate(0 211.0 279.7)"/>
<path d="M206.8,283.7 A4.2,2.0 0 0 0 215.2,283.7" fill="none" stroke="#000" stroke-width="1.92" />
<path d="M224.0,536.0 L194.0,572.0 L194.0,584.0 L197.0,586.0 L270.0,522.0 L280.0,518.5 L340.8,504.8 L343.6,488.3 L322.5,477.3" fill="#fff" stroke="#000" stroke-width="1.92" stroke-linejoin="round" />
<path d="M180.0,572.0 L194.0,580.0" fill="none" stroke="#000" stroke-width="1.44" />
<path d="M186.0,568.0 L194.0,572.0" fill="none" stroke="#000" stroke-width="1.44" />
<path d="M180.0,572.0 L186.0,568.0" fill="none" stroke="#000" stroke-width="1.44" />
<line x1="225.0" y1="537.5" x2="280.0" y2="506.0" stroke="#000" stroke-width="1.44"/>
<path d="M188.7,580 L188.7,584.6 L196,584.6 L196,581" fill="none" stroke="#000" stroke-width="1.56" />
<line x1="224.0" y1="535.0" x2="316.0" y2="482.0" stroke="#000" stroke-width="1.56"/>
<path d="M180,566 L180,580 L190,583" fill="none" stroke="#000" stroke-width="1.44" />
<circle cx="233.6" cy="544.3" r="1.4" fill="#000"/>
<circle cx="305.0" cy="503.0" r="1.4" fill="#000"/>
<circle cx="333.5" cy="489.3" r="1.4" fill="#000"/>
<circle cx="341.8" cy="493.0" r="1.4" fill="#000"/>
<circle cx="205.2" cy="561.7" r="1.4" fill="#000"/>
<circle cx="197.0" cy="575.4" r="1.4" fill="#000"/>
<path d="M60,544 L83,558 L101,567 L84,575 L69,562 Z" fill="#fff" stroke="#000" stroke-width="1.68" stroke-linejoin="round"/>
<path d="M69.0,562.0 L84.0,568.0 L101.0,567.0" fill="none" stroke="#000" stroke-width="1.32" />
<path d="M2.0,505.3 L2.0,508.8 Q2.0,510.3 3.5,510.8 L141.7,591.5 L221.7,542.0 L221.7,537.5 Z" fill="#fff" stroke="#000" stroke-width="1.32" stroke-linejoin="round"/>
<path d="M2.0,505.3 L141.7,587.0 L221.7,537.5 L82.0,455.8 Z" fill="#fff" stroke="#000" stroke-width="0.00" stroke-linejoin="round"/>
<path d="M82.0,455.8 L2.0,505.3 L141.7,587.0 L221.7,537.5" fill="none" stroke="#000" stroke-width="2.40" stroke-linejoin="round"/>
<path d="M5.5,505.3 L141.2,584.0 L221.7,534.5" fill="none" stroke="#000" stroke-width="1.20" stroke-linejoin="round"/>
<path d="M5.5,505.3 L83.5,456.8" fill="none" stroke="#000" stroke-width="1.20" />
<path d="M11.4,505.1 a1.9,1.3 0 1 0 3.8,0 a1.9,1.3 0 1 0 -3.8,0 M17.0,501.7 a1.9,1.3 0 1 0 3.8,0 a1.9,1.3 0 1 0 -3.8,0 M22.5,498.2 a1.9,1.3 0 1 0 3.8,0 a1.9,1.3 0 1 0 -3.8,0 M28.1,494.7 a1.9,1.3 0 1 0 3.8,0 a1.9,1.3 0 1 0 -3.8,0 M33.7,491.3 a1.9,1.3 0 1 0 3.8,0 a1.9,1.3 0 1 0 -3.8,0 M39.3,487.8 a1.9,1.3 0 1 0 3.8,0 a1.9,1.3 0 1 0 -3.8,0 M44.9,484.3 a1.9,1.3 0 1 0 3.8,0 a1.9,1.3 0 1 0 -3.8,0 M50.5,480.9 a1.9,1.3 0 1 0 3.8,0 a1.9,1.3 0 1 0 -3.8,0 M56.1,477.4 a1.9,1.3 0 1 0 3.8,0 a1.9,1.3 0 1 0 -3.8,0 M61.7,473.9 a1.9,1.3 0 1 0 3.8,0 a1.9,1.3 0 1 0 -3.8,0 M67.3,470.4 a1.9,1.3 0 1 0 3.8,0 a1.9,1.3 0 1 0 -3.8,0 M72.8,467.0 a1.9,1.3 0 1 0 3.8,0 a1.9,1.3 0 1 0 -3.8,0 M78.4,463.5 a1.9,1.3 0 1 0 3.8,0 a1.9,1.3 0 1 0 -3.8,0 M17.0,508.4 a1.9,1.3 0 1 0 3.8,0 a1.9,1.3 0 1 0 -3.8,0 M22.6,505.0 a1.9,1.3 0 1 0 3.8,0 a1.9,1.3 0 1 0 -3.8,0 M28.2,501.5 a1.9,1.3 0 1 0 3.8,0 a1.9,1.3 0 1 0 -3.8,0 M33.8,498.0 a1.9,1.3 0 1 0 3.8,0 a1.9,1.3 0 1 0 -3.8,0 M39.4,494.6 a1.9,1.3 0 1 0 3.8,0 a1.9,1.3 0 1 0 -3.8,0 M45.0,491.1 a1.9,1.3 0 1 0 3.8,0 a1.9,1.3 0 1 0 -3.8,0 M50.6,487.6 a1.9,1.3 0 1 0 3.8,0 a1.9,1.3 0 1 0 -3.8,0 M56.2,484.2 a1.9,1.3 0 1 0 3.8,0 a1.9,1.3 0 1 0 -3.8,0 M61.8,480.7 a1.9,1.3 0 1 0 3.8,0 a1.9,1.3 0 1 0 -3.8,0 M67.3,477.2 a1.9,1.3 0 1 0 3.8,0 a1.9,1.3 0 1 0 -3.8,0 M72.9,473.8 a1.9,1.3 0 1 0 3.8,0 a1.9,1.3 0 1 0 -3.8,0 M78.5,470.3 a1.9,1.3 0 1 0 3.8,0 a1.9,1.3 0 1 0 -3.8,0 M84.1,466.8 a1.9,1.3 0 1 0 3.8,0 a1.9,1.3 0 1 0 -3.8,0 M28.3,508.3 a1.9,1.3 0 1 0 3.8,0 a1.9,1.3 0 1 0 -3.8,0 M33.9,504.8 a1.9,1.3 0 1 0 3.8,0 a1.9,1.3 0 1 0 -3.8,0 M39.5,501.4 a1.9,1.3 0 1 0 3.8,0 a1.9,1.3 0 1 0 -3.8,0 M45.1,497.9 a1.9,1.3 0 1 0 3.8,0 a1.9,1.3 0 1 0 -3.8,0 M50.6,494.4 a1.9,1.3 0 1 0 3.8,0 a1.9,1.3 0 1 0 -3.8,0 M56.2,490.9 a1.9,1.3 0 1 0 3.8,0 a1.9,1.3 0 1 0 -3.8,0 M61.8,487.5 a1.9,1.3 0 1 0 3.8,0 a1.9,1.3 0 1 0 -3.8,0 M67.4,484.0 a1.9,1.3 0 1 0 3.8,0 a1.9,1.3 0 1 0 -3.8,0 M73.0,480.5 a1.9,1.3 0 1 0 3.8,0 a1.9,1.3 0 1 0 -3.8,0 M78.6,477.1 a1.9,1.3 0 1 0 3.8,0 a1.9,1.3 0 1 0 -3.8,0 M84.2,473.6 a1.9,1.3 0 1 0 3.8,0 a1.9,1.3 0 1 0 -3.8,0 M89.8,470.1 a1.9,1.3 0 1 0 3.8,0 a1.9,1.3 0 1 0 -3.8,0 M28.4,515.1 a1.9,1.3 0 1 0 3.8,0 a1.9,1.3 0 1 0 -3.8,0 M34.0,511.6 a1.9,1.3 0 1 0 3.8,0 a1.9,1.3 0 1 0 -3.8,0 M39.6,508.1 a1.9,1.3 0 1 0 3.8,0 a1.9,1.3 0 1 0 -3.8,0 M45.1,504.7 a1.9,1.3 0 1 0 3.8,0 a1.9,1.3 0 1 0 -3.8,0 M50.7,501.2 a1.9,1.3 0 1 0 3.8,0 a1.9,1.3 0 1 0 -3.8,0 M56.3,497.7 a1.9,1.3 0 1 0 3.8,0 a1.9,1.3 0 1 0 -3.8,0 M61.9,494.2 a1.9,1.3 0 1 0 3.8,0 a1.9,1.3 0 1 0 -3.8,0 M67.5,490.8 a1.9,1.3 0 1 0 3.8,0 a1.9,1.3 0 1 0 -3.8,0 M73.1,487.3 a1.9,1.3 0 1 0 3.8,0 a1.9,1.3 0 1 0 -3.8,0 M78.7,483.8 a1.9,1.3 0 1 0 3.8,0 a1.9,1.3 0 1 0 -3.8,0 M84.3,480.4 a1.9,1.3 0 1 0 3.8,0 a1.9,1.3 0 1 0 -3.8,0 M89.9,476.9 a1.9,1.3 0 1 0 3.8,0 a1.9,1.3 0 1 0 -3.8,0 M95.4,473.4 a1.9,1.3 0 1 0 3.8,0 a1.9,1.3 0 1 0 -3.8,0 M34.0,518.4 a1.9,1.3 0 1 0 3.8,0 a1.9,1.3 0 1 0 -3.8,0 M39.6,514.9 a1.9,1.3 0 1 0 3.8,0 a1.9,1.3 0 1 0 -3.8,0 M45.2,511.4 a1.9,1.3 0 1 0 3.8,0 a1.9,1.3 0 1 0 -3.8,0 M50.8,508.0 a1.9,1.3 0 1 0 3.8,0 a1.9,1.3 0 1 0 -3.8,0 M56.4,504.5 a1.9,1.3 0 1 0 3.8,0 a1.9,1.3 0 1 0 -3.8,0 M62.0,501.0 a1.9,1.3 0 1 0 3.8,0 a1.9,1.3 0 1 0 -3.8,0 M67.6,497.6 a1.9,1.3 0 1 0 3.8,0 a1.9,1.3 0 1 0 -3.8,0 M73.2,494.1 a1.9,1.3 0 1 0 3.8,0 a1.9,1.3 0 1 0 -3.8,0 M78.8,490.6 a1.9,1.3 0 1 0 3.8,0 a1.9,1.3 0 1 0 -3.8,0 M84.3,487.2 a1.9,1.3 0 1 0 3.8,0 a1.9,1.3 0 1 0 -3.8,0 M89.9,483.7 a1.9,1.3 0 1 0 3.8,0 a1.9,1.3 0 1 0 -3.8,0 M95.5,480.2 a1.9,1.3 0 1 0 3.8,0 a1.9,1.3 0 1 0 -3.8,0 M101.1,476.7 a1.9,1.3 0 1 0 3.8,0 a1.9,1.3 0 1 0 -3.8,0 M39.7,521.7 a1.9,1.3 0 1 0 3.8,0 a1.9,1.3 0 1 0 -3.8,0 M45.3,518.2 a1.9,1.3 0 1 0 3.8,0 a1.9,1.3 0 1 0 -3.8,0 M50.9,514.8 a1.9,1.3 0 1 0 3.8,0 a1.9,1.3 0 1 0 -3.8,0 M56.5,511.3 a1.9,1.3 0 1 0 3.8,0 a1.9,1.3 0 1 0 -3.8,0 M62.1,507.8 a1.9,1.3 0 1 0 3.8,0 a1.9,1.3 0 1 0 -3.8,0 M67.7,504.3 a1.9,1.3 0 1 0 3.8,0 a1.9,1.3 0 1 0 -3.8,0 M73.2,500.9 a1.9,1.3 0 1 0 3.8,0 a1.9,1.3 0 1 0 -3.8,0 M78.8,497.4 a1.9,1.3 0 1 0 3.8,0 a1.9,1.3 0 1 0 -3.8,0 M84.4,493.9 a1.9,1.3 0 1 0 3.8,0 a1.9,1.3 0 1 0 -3.8,0 M90.0,490.5 a1.9,1.3 0 1 0 3.8,0 a1.9,1.3 0 1 0 -3.8,0 M95.6,487.0 a1.9,1.3 0 1 0 3.8,0 a1.9,1.3 0 1 0 -3.8,0 M101.2,483.5 a1.9,1.3 0 1 0 3.8,0 a1.9,1.3 0 1 0 -3.8,0 M106.8,480.0 a1.9,1.3 0 1 0 3.8,0 a1.9,1.3 0 1 0 -3.8,0 M45.4,525.0 a1.9,1.3 0 1 0 3.8,0 a1.9,1.3 0 1 0 -3.8,0 M51.0,521.5 a1.9,1.3 0 1 0 3.8,0 a1.9,1.3 0 1 0 -3.8,0 M56.6,518.1 a1.9,1.3 0 1 0 3.8,0 a1.9,1.3 0 1 0 -3.8,0 M62.1,514.6 a1.9,1.3 0 1 0 3.8,0 a1.9,1.3 0 1 0 -3.8,0 M67.7,511.1 a1.9,1.3 0 1 0 3.8,0 a1.9,1.3 0 1 0 -3.8,0 M73.3,507.7 a1.9,1.3 0 1 0 3.8,0 a1.9,1.3 0 1 0 -3.8,0 M78.9,504.2 a1.9,1.3 0 1 0 3.8,0 a1.9,1.3 0 1 0 -3.8,0 M84.5,500.7 a1.9,1.3 0 1 0 3.8,0 a1.9,1.3 0 1 0 -3.8,0 M90.1,497.2 a1.9,1.3 0 1 0 3.8,0 a1.9,1.3 0 1 0 -3.8,0 M95.7,493.8 a1.9,1.3 0 1 0 3.8,0 a1.9,1.3 0 1 0 -3.8,0 M101.3,490.3 a1.9,1.3 0 1 0 3.8,0 a1.9,1.3 0 1 0 -3.8,0 M106.9,486.8 a1.9,1.3 0 1 0 3.8,0 a1.9,1.3 0 1 0 -3.8,0 M112.5,483.4 a1.9,1.3 0 1 0 3.8,0 a1.9,1.3 0 1 0 -3.8,0 M51.1,528.3 a1.9,1.3 0 1 0 3.8,0 a1.9,1.3 0 1 0 -3.8,0 M56.6,524.8 a1.9,1.3 0 1 0 3.8,0 a1.9,1.3 0 1 0 -3.8,0 M62.2,521.4 a1.9,1.3 0 1 0 3.8,0 a1.9,1.3 0 1 0 -3.8,0 M67.8,517.9 a1.9,1.3 0 1 0 3.8,0 a1.9,1.3 0 1 0 -3.8,0 M73.4,514.4 a1.9,1.3 0 1 0 3.8,0 a1.9,1.3 0 1 0 -3.8,0 M79.0,511.0 a1.9,1.3 0 1 0 3.8,0 a1.9,1.3 0 1 0 -3.8,0 M84.6,507.5 a1.9,1.3 0 1 0 3.8,0 a1.9,1.3 0 1 0 -3.8,0 M90.2,504.0 a1.9,1.3 0 1 0 3.8,0 a1.9,1.3 0 1 0 -3.8,0 M95.8,500.5 a1.9,1.3 0 1 0 3.8,0 a1.9,1.3 0 1 0 -3.8,0 M101.4,497.1 a1.9,1.3 0 1 0 3.8,0 a1.9,1.3 0 1 0 -3.8,0 M106.9,493.6 a1.9,1.3 0 1 0 3.8,0 a1.9,1.3 0 1 0 -3.8,0 M112.5,490.1 a1.9,1.3 0 1 0 3.8,0 a1.9,1.3 0 1 0 -3.8,0 M118.1,486.7 a1.9,1.3 0 1 0 3.8,0 a1.9,1.3 0 1 0 -3.8,0 M56.7,531.6 a1.9,1.3 0 1 0 3.8,0 a1.9,1.3 0 1 0 -3.8,0 M62.3,528.1 a1.9,1.3 0 1 0 3.8,0 a1.9,1.3 0 1 0 -3.8,0 M67.9,524.7 a1.9,1.3 0 1 0 3.8,0 a1.9,1.3 0 1 0 -3.8,0 M73.5,521.2 a1.9,1.3 0 1 0 3.8,0 a1.9,1.3 0 1 0 -3.8,0 M79.1,517.7 a1.9,1.3 0 1 0 3.8,0 a1.9,1.3 0 1 0 -3.8,0 M84.7,514.3 a1.9,1.3 0 1 0 3.8,0 a1.9,1.3 0 1 0 -3.8,0 M90.3,510.8 a1.9,1.3 0 1 0 3.8,0 a1.9,1.3 0 1 0 -3.8,0 M95.8,507.3 a1.9,1.3 0 1 0 3.8,0 a1.9,1.3 0 1 0 -3.8,0 M101.4,503.9 a1.9,1.3 0 1 0 3.8,0 a1.9,1.3 0 1 0 -3.8,0 M107.0,500.4 a1.9,1.3 0 1 0 3.8,0 a1.9,1.3 0 1 0 -3.8,0 M112.6,496.9 a1.9,1.3 0 1 0 3.8,0 a1.9,1.3 0 1 0 -3.8,0 M118.2,493.5 a1.9,1.3 0 1 0 3.8,0 a1.9,1.3 0 1 0 -3.8,0 M123.8,490.0 a1.9,1.3 0 1 0 3.8,0 a1.9,1.3 0 1 0 -3.8,0 M62.4,534.9 a1.9,1.3 0 1 0 3.8,0 a1.9,1.3 0 1 0 -3.8,0 M68.0,531.5 a1.9,1.3 0 1 0 3.8,0 a1.9,1.3 0 1 0 -3.8,0 M73.6,528.0 a1.9,1.3 0 1 0 3.8,0 a1.9,1.3 0 1 0 -3.8,0 M79.2,524.5 a1.9,1.3 0 1 0 3.8,0 a1.9,1.3 0 1 0 -3.8,0 M84.8,521.0 a1.9,1.3 0 1 0 3.8,0 a1.9,1.3 0 1 0 -3.8,0 M90.3,517.6 a1.9,1.3 0 1 0 3.8,0 a1.9,1.3 0 1 0 -3.8,0 M95.9,514.1 a1.9,1.3 0 1 0 3.8,0 a1.9,1.3 0 1 0 -3.8,0 M101.5,510.6 a1.9,1.3 0 1 0 3.8,0 a1.9,1.3 0 1 0 -3.8,0 M107.1,507.2 a1.9,1.3 0 1 0 3.8,0 a1.9,1.3 0 1 0 -3.8,0 M112.7,503.7 a1.9,1.3 0 1 0 3.8,0 a1.9,1.3 0 1 0 -3.8,0 M118.3,500.2 a1.9,1.3 0 1 0 3.8,0 a1.9,1.3 0 1 0 -3.8,0 M123.9,496.8 a1.9,1.3 0 1 0 3.8,0 a1.9,1.3 0 1 0 -3.8,0 M129.5,493.3 a1.9,1.3 0 1 0 3.8,0 a1.9,1.3 0 1 0 -3.8,0 M68.1,538.2 a1.9,1.3 0 1 0 3.8,0 a1.9,1.3 0 1 0 -3.8,0 M73.7,534.8 a1.9,1.3 0 1 0 3.8,0 a1.9,1.3 0 1 0 -3.8,0 M79.2,531.3 a1.9,1.3 0 1 0 3.8,0 a1.9,1.3 0 1 0 -3.8,0 M84.8,527.8 a1.9,1.3 0 1 0 3.8,0 a1.9,1.3 0 1 0 -3.8,0 M90.4,524.4 a1.9,1.3 0 1 0 3.8,0 a1.9,1.3 0 1 0 -3.8,0 M96.0,520.9 a1.9,1.3 0 1 0 3.8,0 a1.9,1.3 0 1 0 -3.8,0 M101.6,517.4 a1.9,1.3 0 1 0 3.8,0 a1.9,1.3 0 1 0 -3.8,0 M107.2,514.0 a1.9,1.3 0 1 0 3.8,0 a1.9,1.3 0 1 0 -3.8,0 M112.8,510.5 a1.9,1.3 0 1 0 3.8,0 a1.9,1.3 0 1 0 -3.8,0 M118.4,507.0 a1.9,1.3 0 1 0 3.8,0 a1.9,1.3 0 1 0 -3.8,0 M124.0,503.5 a1.9,1.3 0 1 0 3.8,0 a1.9,1.3 0 1 0 -3.8,0 M129.5,500.1 a1.9,1.3 0 1 0 3.8,0 a1.9,1.3 0 1 0 -3.8,0 M135.1,496.6 a1.9,1.3 0 1 0 3.8,0 a1.9,1.3 0 1 0 -3.8,0 M73.7,541.5 a1.9,1.3 0 1 0 3.8,0 a1.9,1.3 0 1 0 -3.8,0 M79.3,538.1 a1.9,1.3 0 1 0 3.8,0 a1.9,1.3 0 1 0 -3.8,0 M84.9,534.6 a1.9,1.3 0 1 0 3.8,0 a1.9,1.3 0 1 0 -3.8,0 M90.5,531.1 a1.9,1.3 0 1 0 3.8,0 a1.9,1.3 0 1 0 -3.8,0 M96.1,527.7 a1.9,1.3 0 1 0 3.8,0 a1.9,1.3 0 1 0 -3.8,0 M101.7,524.2 a1.9,1.3 0 1 0 3.8,0 a1.9,1.3 0 1 0 -3.8,0 M107.3,520.7 a1.9,1.3 0 1 0 3.8,0 a1.9,1.3 0 1 0 -3.8,0 M112.9,517.3 a1.9,1.3 0 1 0 3.8,0 a1.9,1.3 0 1 0 -3.8,0 M118.4,513.8 a1.9,1.3 0 1 0 3.8,0 a1.9,1.3 0 1 0 -3.8,0 M124.0,510.3 a1.9,1.3 0 1 0 3.8,0 a1.9,1.3 0 1 0 -3.8,0 M129.6,506.8 a1.9,1.3 0 1 0 3.8,0 a1.9,1.3 0 1 0 -3.8,0 M135.2,503.4 a1.9,1.3 0 1 0 3.8,0 a1.9,1.3 0 1 0 -3.8,0 M140.8,499.9 a1.9,1.3 0 1 0 3.8,0 a1.9,1.3 0 1 0 -3.8,0 M79.4,544.9 a1.9,1.3 0 1 0 3.8,0 a1.9,1.3 0 1 0 -3.8,0 M85.0,541.4 a1.9,1.3 0 1 0 3.8,0 a1.9,1.3 0 1 0 -3.8,0 M90.6,537.9 a1.9,1.3 0 1 0 3.8,0 a1.9,1.3 0 1 0 -3.8,0 M96.2,534.5 a1.9,1.3 0 1 0 3.8,0 a1.9,1.3 0 1 0 -3.8,0 M101.8,531.0 a1.9,1.3 0 1 0 3.8,0 a1.9,1.3 0 1 0 -3.8,0 M107.3,527.5 a1.9,1.3 0 1 0 3.8,0 a1.9,1.3 0 1 0 -3.8,0 M112.9,524.0 a1.9,1.3 0 1 0 3.8,0 a1.9,1.3 0 1 0 -3.8,0 M118.5,520.6 a1.9,1.3 0 1 0 3.8,0 a1.9,1.3 0 1 0 -3.8,0 M124.1,517.1 a1.9,1.3 0 1 0 3.8,0 a1.9,1.3 0 1 0 -3.8,0 M129.7,513.6 a1.9,1.3 0 1 0 3.8,0 a1.9,1.3 0 1 0 -3.8,0 M135.3,510.2 a1.9,1.3 0 1 0 3.8,0 a1.9,1.3 0 1 0 -3.8,0 M140.9,506.7 a1.9,1.3 0 1 0 3.8,0 a1.9,1.3 0 1 0 -3.8,0 M146.5,503.2 a1.9,1.3 0 1 0 3.8,0 a1.9,1.3 0 1 0 -3.8,0 M85.1,548.2 a1.9,1.3 0 1 0 3.8,0 a1.9,1.3 0 1 0 -3.8,0 M90.7,544.7 a1.9,1.3 0 1 0 3.8,0 a1.9,1.3 0 1 0 -3.8,0 M96.2,541.2 a1.9,1.3 0 1 0 3.8,0 a1.9,1.3 0 1 0 -3.8,0 M101.8,537.8 a1.9,1.3 0 1 0 3.8,0 a1.9,1.3 0 1 0 -3.8,0 M107.4,534.3 a1.9,1.3 0 1 0 3.8,0 a1.9,1.3 0 1 0 -3.8,0 M113.0,530.8 a1.9,1.3 0 1 0 3.8,0 a1.9,1.3 0 1 0 -3.8,0 M118.6,527.4 a1.9,1.3 0 1 0 3.8,0 a1.9,1.3 0 1 0 -3.8,0 M124.2,523.9 a1.9,1.3 0 1 0 3.8,0 a1.9,1.3 0 1 0 -3.8,0 M129.8,520.4 a1.9,1.3 0 1 0 3.8,0 a1.9,1.3 0 1 0 -3.8,0 M135.4,516.9 a1.9,1.3 0 1 0 3.8,0 a1.9,1.3 0 1 0 -3.8,0 M141.0,513.5 a1.9,1.3 0 1 0 3.8,0 a1.9,1.3 0 1 0 -3.8,0 M146.6,510.0 a1.9,1.3 0 1 0 3.8,0 a1.9,1.3 0 1 0 -3.8,0 M152.2,506.5 a1.9,1.3 0 1 0 3.8,0 a1.9,1.3 0 1 0 -3.8,0 M90.7,551.5 a1.9,1.3 0 1 0 3.8,0 a1.9,1.3 0 1 0 -3.8,0 M96.3,548.0 a1.9,1.3 0 1 0 3.8,0 a1.9,1.3 0 1 0 -3.8,0 M101.9,544.5 a1.9,1.3 0 1 0 3.8,0 a1.9,1.3 0 1 0 -3.8,0 M107.5,541.1 a1.9,1.3 0 1 0 3.8,0 a1.9,1.3 0 1 0 -3.8,0 M113.1,537.6 a1.9,1.3 0 1 0 3.8,0 a1.9,1.3 0 1 0 -3.8,0 M118.7,534.1 a1.9,1.3 0 1 0 3.8,0 a1.9,1.3 0 1 0 -3.8,0 M124.3,530.7 a1.9,1.3 0 1 0 3.8,0 a1.9,1.3 0 1 0 -3.8,0 M129.9,527.2 a1.9,1.3 0 1 0 3.8,0 a1.9,1.3 0 1 0 -3.8,0 M135.5,523.7 a1.9,1.3 0 1 0 3.8,0 a1.9,1.3 0 1 0 -3.8,0 M141.0,520.2 a1.9,1.3 0 1 0 3.8,0 a1.9,1.3 0 1 0 -3.8,0 M146.6,516.8 a1.9,1.3 0 1 0 3.8,0 a1.9,1.3 0 1 0 -3.8,0 M152.2,513.3 a1.9,1.3 0 1 0 3.8,0 a1.9,1.3 0 1 0 -3.8,0 M157.8,509.8 a1.9,1.3 0 1 0 3.8,0 a1.9,1.3 0 1 0 -3.8,0 M96.4,554.8 a1.9,1.3 0 1 0 3.8,0 a1.9,1.3 0 1 0 -3.8,0 M102.0,551.3 a1.9,1.3 0 1 0 3.8,0 a1.9,1.3 0 1 0 -3.8,0 M107.6,547.9 a1.9,1.3 0 1 0 3.8,0 a1.9,1.3 0 1 0 -3.8,0 M113.2,544.4 a1.9,1.3 0 1 0 3.8,0 a1.9,1.3 0 1 0 -3.8,0 M118.8,540.9 a1.9,1.3 0 1 0 3.8,0 a1.9,1.3 0 1 0 -3.8,0 M124.4,537.4 a1.9,1.3 0 1 0 3.8,0 a1.9,1.3 0 1 0 -3.8,0 M129.9,534.0 a1.9,1.3 0 1 0 3.8,0 a1.9,1.3 0 1 0 -3.8,0 M135.5,530.5 a1.9,1.3 0 1 0 3.8,0 a1.9,1.3 0 1 0 -3.8,0 M141.1,527.0 a1.9,1.3 0 1 0 3.8,0 a1.9,1.3 0 1 0 -3.8,0 M146.7,523.6 a1.9,1.3 0 1 0 3.8,0 a1.9,1.3 0 1 0 -3.8,0 M152.3,520.1 a1.9,1.3 0 1 0 3.8,0 a1.9,1.3 0 1 0 -3.8,0 M157.9,516.6 a1.9,1.3 0 1 0 3.8,0 a1.9,1.3 0 1 0 -3.8,0 M163.5,513.1 a1.9,1.3 0 1 0 3.8,0 a1.9,1.3 0 1 0 -3.8,0 M102.1,558.1 a1.9,1.3 0 1 0 3.8,0 a1.9,1.3 0 1 0 -3.8,0 M107.7,554.6 a1.9,1.3 0 1 0 3.8,0 a1.9,1.3 0 1 0 -3.8,0 M113.3,551.2 a1.9,1.3 0 1 0 3.8,0 a1.9,1.3 0 1 0 -3.8,0 M118.8,547.7 a1.9,1.3 0 1 0 3.8,0 a1.9,1.3 0 1 0 -3.8,0 M124.4,544.2 a1.9,1.3 0 1 0 3.8,0 a1.9,1.3 0 1 0 -3.8,0 M130.0,540.8 a1.9,1.3 0 1 0 3.8,0 a1.9,1.3 0 1 0 -3.8,0 M135.6,537.3 a1.9,1.3 0 1 0 3.8,0 a1.9,1.3 0 1 0 -3.8,0 M141.2,533.8 a1.9,1.3 0 1 0 3.8,0 a1.9,1.3 0 1 0 -3.8,0 M146.8,530.3 a1.9,1.3 0 1 0 3.8,0 a1.9,1.3 0 1 0 -3.8,0 M152.4,526.9 a1.9,1.3 0 1 0 3.8,0 a1.9,1.3 0 1 0 -3.8,0 M158.0,523.4 a1.9,1.3 0 1 0 3.8,0 a1.9,1.3 0 1 0 -3.8,0 M163.6,519.9 a1.9,1.3 0 1 0 3.8,0 a1.9,1.3 0 1 0 -3.8,0 M169.2,516.5 a1.9,1.3 0 1 0 3.8,0 a1.9,1.3 0 1 0 -3.8,0 M107.8,561.4 a1.9,1.3 0 1 0 3.8,0 a1.9,1.3 0 1 0 -3.8,0 M113.3,557.9 a1.9,1.3 0 1 0 3.8,0 a1.9,1.3 0 1 0 -3.8,0 M118.9,554.5 a1.9,1.3 0 1 0 3.8,0 a1.9,1.3 0 1 0 -3.8,0 M124.5,551.0 a1.9,1.3 0 1 0 3.8,0 a1.9,1.3 0 1 0 -3.8,0 M130.1,547.5 a1.9,1.3 0 1 0 3.8,0 a1.9,1.3 0 1 0 -3.8,0 M135.7,544.1 a1.9,1.3 0 1 0 3.8,0 a1.9,1.3 0 1 0 -3.8,0 M141.3,540.6 a1.9,1.3 0 1 0 3.8,0 a1.9,1.3 0 1 0 -3.8,0 M146.9,537.1 a1.9,1.3 0 1 0 3.8,0 a1.9,1.3 0 1 0 -3.8,0 M152.5,533.6 a1.9,1.3 0 1 0 3.8,0 a1.9,1.3 0 1 0 -3.8,0 M158.1,530.2 a1.9,1.3 0 1 0 3.8,0 a1.9,1.3 0 1 0 -3.8,0 M163.7,526.7 a1.9,1.3 0 1 0 3.8,0 a1.9,1.3 0 1 0 -3.8,0 M169.2,523.2 a1.9,1.3 0 1 0 3.8,0 a1.9,1.3 0 1 0 -3.8,0 M174.8,519.8 a1.9,1.3 0 1 0 3.8,0 a1.9,1.3 0 1 0 -3.8,0 M113.4,564.7 a1.9,1.3 0 1 0 3.8,0 a1.9,1.3 0 1 0 -3.8,0 M119.0,561.2 a1.9,1.3 0 1 0 3.8,0 a1.9,1.3 0 1 0 -3.8,0 M124.6,557.8 a1.9,1.3 0 1 0 3.8,0 a1.9,1.3 0 1 0 -3.8,0 M130.2,554.3 a1.9,1.3 0 1 0 3.8,0 a1.9,1.3 0 1 0 -3.8,0 M135.8,550.8 a1.9,1.3 0 1 0 3.8,0 a1.9,1.3 0 1 0 -3.8,0 M141.4,547.4 a1.9,1.3 0 1 0 3.8,0 a1.9,1.3 0 1 0 -3.8,0 M147.0,543.9 a1.9,1.3 0 1 0 3.8,0 a1.9,1.3 0 1 0 -3.8,0 M152.5,540.4 a1.9,1.3 0 1 0 3.8,0 a1.9,1.3 0 1 0 -3.8,0 M158.1,537.0 a1.9,1.3 0 1 0 3.8,0 a1.9,1.3 0 1 0 -3.8,0 M163.7,533.5 a1.9,1.3 0 1 0 3.8,0 a1.9,1.3 0 1 0 -3.8,0 M169.3,530.0 a1.9,1.3 0 1 0 3.8,0 a1.9,1.3 0 1 0 -3.8,0 M174.9,526.6 a1.9,1.3 0 1 0 3.8,0 a1.9,1.3 0 1 0 -3.8,0 M180.5,523.1 a1.9,1.3 0 1 0 3.8,0 a1.9,1.3 0 1 0 -3.8,0 M119.1,568.0 a1.9,1.3 0 1 0 3.8,0 a1.9,1.3 0 1 0 -3.8,0 M124.7,564.6 a1.9,1.3 0 1 0 3.8,0 a1.9,1.3 0 1 0 -3.8,0 M130.3,561.1 a1.9,1.3 0 1 0 3.8,0 a1.9,1.3 0 1 0 -3.8,0 M135.9,557.6 a1.9,1.3 0 1 0 3.8,0 a1.9,1.3 0 1 0 -3.8,0 M141.4,554.1 a1.9,1.3 0 1 0 3.8,0 a1.9,1.3 0 1 0 -3.8,0 M147.0,550.7 a1.9,1.3 0 1 0 3.8,0 a1.9,1.3 0 1 0 -3.8,0 M152.6,547.2 a1.9,1.3 0 1 0 3.8,0 a1.9,1.3 0 1 0 -3.8,0 M158.2,543.7 a1.9,1.3 0 1 0 3.8,0 a1.9,1.3 0 1 0 -3.8,0 M163.8,540.3 a1.9,1.3 0 1 0 3.8,0 a1.9,1.3 0 1 0 -3.8,0 M169.4,536.8 a1.9,1.3 0 1 0 3.8,0 a1.9,1.3 0 1 0 -3.8,0 M175.0,533.3 a1.9,1.3 0 1 0 3.8,0 a1.9,1.3 0 1 0 -3.8,0 M180.6,529.9 a1.9,1.3 0 1 0 3.8,0 a1.9,1.3 0 1 0 -3.8,0 M186.2,526.4 a1.9,1.3 0 1 0 3.8,0 a1.9,1.3 0 1 0 -3.8,0 M124.8,571.3 a1.9,1.3 0 1 0 3.8,0 a1.9,1.3 0 1 0 -3.8,0 M135.9,564.4 a1.9,1.3 0 1 0 3.8,0 a1.9,1.3 0 1 0 -3.8,0 M141.5,560.9 a1.9,1.3 0 1 0 3.8,0 a1.9,1.3 0 1 0 -3.8,0 M147.1,557.5 a1.9,1.3 0 1 0 3.8,0 a1.9,1.3 0 1 0 -3.8,0 M152.7,554.0 a1.9,1.3 0 1 0 3.8,0 a1.9,1.3 0 1 0 -3.8,0 M158.3,550.5 a1.9,1.3 0 1 0 3.8,0 a1.9,1.3 0 1 0 -3.8,0 M163.9,547.1 a1.9,1.3 0 1 0 3.8,0 a1.9,1.3 0 1 0 -3.8,0 M169.5,543.6 a1.9,1.3 0 1 0 3.8,0 a1.9,1.3 0 1 0 -3.8,0 M175.1,540.1 a1.9,1.3 0 1 0 3.8,0 a1.9,1.3 0 1 0 -3.8,0 M180.7,536.6 a1.9,1.3 0 1 0 3.8,0 a1.9,1.3 0 1 0 -3.8,0 M186.2,533.2 a1.9,1.3 0 1 0 3.8,0 a1.9,1.3 0 1 0 -3.8,0 M191.8,529.7 a1.9,1.3 0 1 0 3.8,0 a1.9,1.3 0 1 0 -3.8,0 M130.4,574.6 a1.9,1.3 0 1 0 3.8,0 a1.9,1.3 0 1 0 -3.8,0 M136.0,571.2 a1.9,1.3 0 1 0 3.8,0 a1.9,1.3 0 1 0 -3.8,0 M141.6,567.7 a1.9,1.3 0 1 0 3.8,0 a1.9,1.3 0 1 0 -3.8,0 M147.2,564.2 a1.9,1.3 0 1 0 3.8,0 a1.9,1.3 0 1 0 -3.8,0 M152.8,560.8 a1.9,1.3 0 1 0 3.8,0 a1.9,1.3 0 1 0 -3.8,0 M158.4,557.3 a1.9,1.3 0 1 0 3.8,0 a1.9,1.3 0 1 0 -3.8,0 M164.0,553.8 a1.9,1.3 0 1 0 3.8,0 a1.9,1.3 0 1 0 -3.8,0 M169.6,550.4 a1.9,1.3 0 1 0 3.8,0 a1.9,1.3 0 1 0 -3.8,0 M175.2,546.9 a1.9,1.3 0 1 0 3.8,0 a1.9,1.3 0 1 0 -3.8,0 M180.7,543.4 a1.9,1.3 0 1 0 3.8,0 a1.9,1.3 0 1 0 -3.8,0 M186.3,540.0 a1.9,1.3 0 1 0 3.8,0 a1.9,1.3 0 1 0 -3.8,0 M191.9,536.5 a1.9,1.3 0 1 0 3.8,0 a1.9,1.3 0 1 0 -3.8,0 M197.5,533.0 a1.9,1.3 0 1 0 3.8,0 a1.9,1.3 0 1 0 -3.8,0 M136.1,578.0 a1.9,1.3 0 1 0 3.8,0 a1.9,1.3 0 1 0 -3.8,0 M141.7,574.5 a1.9,1.3 0 1 0 3.8,0 a1.9,1.3 0 1 0 -3.8,0 M147.3,571.0 a1.9,1.3 0 1 0 3.8,0 a1.9,1.3 0 1 0 -3.8,0 M152.9,567.6 a1.9,1.3 0 1 0 3.8,0 a1.9,1.3 0 1 0 -3.8,0 M158.5,564.1 a1.9,1.3 0 1 0 3.8,0 a1.9,1.3 0 1 0 -3.8,0 M164.0,560.6 a1.9,1.3 0 1 0 3.8,0 a1.9,1.3 0 1 0 -3.8,0 M169.6,557.1 a1.9,1.3 0 1 0 3.8,0 a1.9,1.3 0 1 0 -3.8,0 M175.2,553.7 a1.9,1.3 0 1 0 3.8,0 a1.9,1.3 0 1 0 -3.8,0 M180.8,550.2 a1.9,1.3 0 1 0 3.8,0 a1.9,1.3 0 1 0 -3.8,0 M186.4,546.7 a1.9,1.3 0 1 0 3.8,0 a1.9,1.3 0 1 0 -3.8,0 M192.0,543.3 a1.9,1.3 0 1 0 3.8,0 a1.9,1.3 0 1 0 -3.8,0 M197.6,539.8 a1.9,1.3 0 1 0 3.8,0 a1.9,1.3 0 1 0 -3.8,0 M203.2,536.3 a1.9,1.3 0 1 0 3.8,0 a1.9,1.3 0 1 0 -3.8,0" fill="none" stroke="#000" stroke-width="1.44"/>
<ellipse cx="24.6" cy="511.8" rx="4.3" ry="2.6" fill="none" stroke="#000" stroke-width="1.44" transform="rotate(0 24.6 511.8)"/>
<ellipse cx="132.2" cy="567.9" rx="4.3" ry="2.6" fill="none" stroke="#000" stroke-width="1.44" transform="rotate(0 132.2 567.9)"/>
<path d="M189.6,518.6 L346.7,427.5 L346.7,460 L189.6,550.7 Z" fill="#fff" stroke="#000" stroke-width="1.92" stroke-linejoin="round"/>
<line x1="189.6" y1="518.6" x2="189.6" y2="550.7" stroke="#000" stroke-width="2.64"/>
<path d="M230.0,496.7 L270.8,476.7 L270.8,506.7 L230.0,528.3 Z" fill="none" stroke="#000" stroke-width="1.56" />
<path d="M236.5,495.0 L264.0,482.0 L264.0,491.8 L238.3,504.8 Z" fill="none" stroke="#000" stroke-width="1.56" />
<text x="0" y="0" font-size="6.5" class="logo2" textLength="15" lengthAdjust="spacingAndGlyphs" transform="matrix(0.9,-0.45,0,1,243,499.5)">100C</text>
<circle cx="237.5" cy="518.3" r="2.2" fill="none" stroke="#000" stroke-width="1.56"/>
<circle cx="263.3" cy="504.2" r="2.2" fill="none" stroke="#000" stroke-width="1.56"/>
<path d="M214.2,515 L222,511 L224.2,513 L224.2,529 L216.5,533 L214.2,531 Z" fill="#fff" stroke="#000" stroke-width="2.64" />
<path d="M217.5,516 L222,514 L222,526 L217.5,528.5 Z" fill="#fff" stroke="#000" stroke-width="1.56" />
<path d="M220,476.7 L374.2,390.8 L346.7,427.5 L189.6,518.6 Z" fill="#fff" stroke="#000" stroke-width="1.92" stroke-linejoin="round"/>
<path d="M222.0,481.5 L268.3,454.2 L241.7,485.0 L202.5,507.0 Z" fill="none" stroke="#000" stroke-width="1.56" stroke-linejoin="round"/>
<path d="M275.8,449.2 L305.0,434.2 L305.0,447.5 L245.8,481.7 Z" fill="none" stroke="#000" stroke-width="1.56" stroke-linejoin="round"/>
<path d="M313.3,428.3 L362.0,401.5 L345.0,425.0 L313.3,443.3 Z" fill="none" stroke="#000" stroke-width="1.56" stroke-linejoin="round"/>
<path d="M219.2,455.8 L375.8,367.5 L375,390.8 L220,476.7 Z" fill="#fff" stroke="#000" stroke-width="1.92" stroke-linejoin="round"/>
<line x1="219.2" y1="455.8" x2="220.0" y2="476.7" stroke="#000" stroke-width="2.64"/>
<path d="M201.3,409.7 L358.5,322.6 L359.3,332 L375.8,367.5 L219.2,455.8 L203.3,417.3 Z" fill="#fff" stroke="#000" stroke-width="1.92" stroke-linejoin="round"/>
<line x1="203.3" y1="417.3" x2="359.3" y2="332.0" stroke="#000" stroke-width="1.80"/>
<line x1="201.3" y1="409.7" x2="201.3" y2="418.0" stroke="#000" stroke-width="2.40"/>
<path d="M214.2,418.3 L253.3,397.5 L272.5,419.2 L225.8,445.0 Z" fill="none" stroke="#000" stroke-width="1.68" stroke-linejoin="round"/>
<path d="M260.8,391.7 L305.0,366.7 L309.2,396.7 L280.8,412.5 Z" fill="none" stroke="#000" stroke-width="1.68" stroke-linejoin="round"/>
<path d="M315.0,359.2 L352.5,339.2 L364.2,366.7 L317.5,392.5 Z" fill="none" stroke="#000" stroke-width="1.68" stroke-linejoin="round"/>
<circle cx="196.7" cy="411.7" r="1.3" fill="#000"/>
<circle cx="209.2" cy="410.0" r="1.3" fill="#000"/>
<circle cx="210.8" cy="418.3" r="1.3" fill="#000"/>
<circle cx="224.2" cy="448.3" r="1.3" fill="#000"/>
<circle cx="255.8" cy="391.7" r="1.3" fill="#000"/>
<circle cx="279.2" cy="417.5" r="1.3" fill="#000"/>
<circle cx="308.3" cy="361.7" r="1.3" fill="#000"/>
<circle cx="312.5" cy="397.5" r="1.3" fill="#000"/>
<circle cx="353.3" cy="326.7" r="1.3" fill="#000"/>
<circle cx="354.2" cy="335.8" r="1.3" fill="#000"/>
<circle cx="367.5" cy="366.7" r="1.3" fill="#000"/>
<circle cx="222.5" cy="480.0" r="1.3" fill="#000"/>
<circle cx="270.0" cy="452.0" r="1.3" fill="#000"/>
<circle cx="305.0" cy="451.0" r="1.3" fill="#000"/>
<circle cx="315.5" cy="424.5" r="1.3" fill="#000"/>
<circle cx="360.0" cy="400.0" r="1.3" fill="#000"/>
<circle cx="201.0" cy="506.0" r="1.3" fill="#000"/>
<circle cx="186.0" cy="512.0" r="1.3" fill="#000"/>
<path d="M35.8,315.8 L35.8,321.7 L20.0,338.3 L18.3,355.0 L20.0,358.0 L46.7,433.3 L46.7,470.8 L189.6,550.7 L189.6,518.6 L219.2,476.7 L219.2,455.8 L203.0,417.5 L201.3,409.7 Z" fill="#fff" stroke="#000" stroke-width="2.16" stroke-linejoin="round" />
<circle cx="196.7" cy="413.0" r="1.6" fill="#000"/>
<line x1="35.8" y1="315.8" x2="201.3" y2="409.7" stroke="#000" stroke-width="2.40"/>
<line x1="36.7" y1="320.5" x2="201.3" y2="411.5" stroke="#000" stroke-width="1.32"/>
<line x1="51.7" y1="339.2" x2="180.0" y2="414.2" stroke="#000" stroke-width="1.44"/>
<line x1="50.8" y1="341.7" x2="180.0" y2="416.7" stroke="#000" stroke-width="1.44"/>
<path d="M40.8,332.5 L45.0,330.8 L51.7,338.3" fill="none" stroke="#000" stroke-width="1.44" />
<path d="M40.8,332.5 L30.0,345.0" fill="none" stroke="#000" stroke-width="1.44" />
<path d="M180.0,414.2 L185.0,413.3 L206.7,458.3 L210.0,472.5" fill="none" stroke="#000" stroke-width="1.56" stroke-linejoin="round"/>
<path d="M180.0,416.7 L203.0,460.0 L206.7,472.5" fill="none" stroke="#000" stroke-width="1.32" />
<path d="M30,345.8 C42,356 50,366 62,373 C72,378 80,384 88,392 C95,402 98,410 106,419 C114,427 122,431 130,430 C137,429 140,425 146,425 C155,426 162,433 172,438 C182,443 190,444 197,443" fill="none" stroke="#000" stroke-width="2.88" />
<path d="M22.0,357.0 L58.8,411.2 L91.2,432.5 L101.0,450.0" fill="none" stroke="#000" stroke-width="1.44" stroke-linejoin="round"/>
<path d="M118.0,472.0 L124.2,468.3 L136.7,457.5 L168.3,475.8 L206.7,472.5" fill="none" stroke="#000" stroke-width="1.44" stroke-linejoin="round"/>
<text x="0" y="0" font-size="13.2" class="logo2" textLength="46" lengthAdjust="spacingAndGlyphs" stroke="#000" stroke-width="1.08" transform="matrix(0.747,0.428,0,1,54.2,364)">REMTA</text>
<ellipse cx="112.9" cy="398.5" rx="12.4" ry="15.6" fill="none" stroke="#000" stroke-width="2.88" transform="rotate(-22 112.9 398.5)"/>
<circle cx="39.2" cy="320.8" r="1.6" fill="none" stroke="#000" stroke-width="1.32"/>
<circle cx="42.5" cy="349.2" r="1.6" fill="none" stroke="#000" stroke-width="1.32"/>
<circle cx="118.3" cy="366.7" r="1.6" fill="none" stroke="#000" stroke-width="1.32"/>
<circle cx="60.0" cy="403.3" r="1.6" fill="none" stroke="#000" stroke-width="1.32"/>
<circle cx="168.3" cy="466.7" r="1.6" fill="none" stroke="#000" stroke-width="1.32"/>
<circle cx="185.8" cy="431.7" r="1.6" fill="none" stroke="#000" stroke-width="1.32"/>
<circle cx="34.2" cy="399.2" r="1.5" fill="#000"/>
<circle cx="48.3" cy="463.3" r="1.5" fill="#000"/>
<circle cx="200.8" cy="495.0" r="1.5" fill="#000"/>
<circle cx="215.0" cy="465.8" r="1.5" fill="#000"/>
<path d="M105.3,452.0 L105.3,464.2 L115.3,469.6 L123.7,463.0 L121.0,456.0 Z" fill="#fff" stroke="#000" stroke-width="1.68" />
<path d="M105.5,443.8 L110.3,444.2 Q113.0,446.0 114.0,448.3 Q117.0,451.0 121.2,451.7 L123.0,459.0 Q120.0,458.5 118.7,458.3 Q115.0,453.5 112.0,452.5 L107.0,451.3 Z" fill="#fff" stroke="#000" stroke-width="1.68" />
<ellipse cx="124.7" cy="456.7" rx="3.4" ry="4.3" fill="#fff" stroke="#000" stroke-width="1.92" transform="rotate(-25 124.7 456.7)"/>
<ellipse cx="125.6" cy="456.9" rx="1.6" ry="2.4" fill="#fff" stroke="#000" stroke-width="1.20" transform="rotate(-25 125.6 456.9)"/>
<path d="M106.5,452.0 Q111.0,452.0 110.5,456.0 Q109.5,459.0 106.5,459.0" fill="#fff" stroke="#000" stroke-width="1.56" />
<path d="M93.9,442.5 L93.9,460.0 L95.3,467.0 Q95.5,471.8 99.6,471.8 Q104.0,471.8 104.0,467.0 L105.5,460.0 L105.5,442.5 Z" fill="#fff" stroke="#000" stroke-width="1.92" />
<line x1="93.9" y1="450.8" x2="105.5" y2="450.8" stroke="#000" stroke-width="2.64"/>
<line x1="93.9" y1="460.0" x2="105.5" y2="460.0" stroke="#000" stroke-width="2.16"/>
<line x1="95.3" y1="467.0" x2="104.0" y2="467.0" stroke="#000" stroke-width="1.92"/>
<path d="M95.5,444.0 L100.0,446.0 L98.0,448.0 L102.0,449.0 L104.0,444.0 Z" fill="#fff" stroke="#000" stroke-width="0.00" />
<ellipse cx="99.9" cy="439.6" rx="5.8" ry="3.8" fill="#000" stroke="#000" stroke-width="0.96" transform="rotate(0 99.9 439.6)"/>
<ellipse cx="99.9" cy="438.6" rx="2.1" ry="1.0" fill="#fff" stroke="#000" stroke-width="0.00" transform="rotate(0 99.9 438.6)"/>
</g>
</svg>
</body></html>
